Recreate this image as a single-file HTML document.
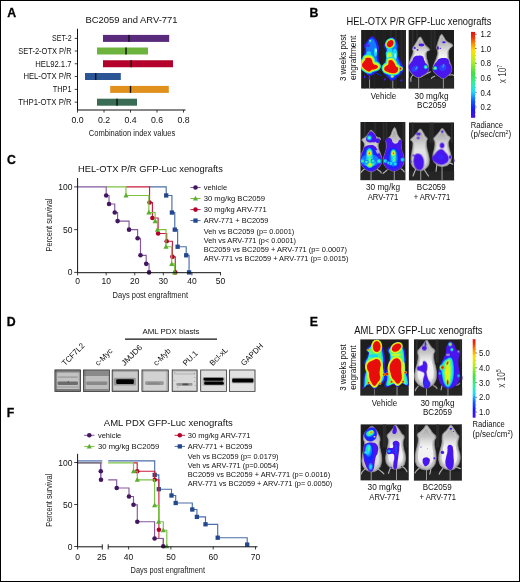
<!DOCTYPE html>
<html><head><meta charset="utf-8"><title>Figure</title>
<style>
html,body{margin:0;padding:0;background:#fff;}
body{width:520px;height:582px;overflow:hidden;font-family:"Liberation Sans",sans-serif;}
#fig{position:absolute;left:0;top:0;width:520px;height:582px;box-sizing:border-box;border:1px solid #000;background:#fff;}
svg{position:absolute;left:0;top:0;will-change:transform;opacity:0.999;}
svg text{font-family:"Liberation Sans",sans-serif;}
</style></head><body>
<div id="fig"></div>
<svg width="520" height="582" viewBox="0 0 520 582">
<defs><filter id="bblur" x="-5%" y="-5%" width="110%" height="110%"><feGaussianBlur stdDeviation="0.75"/></filter></defs>
<defs>
<filter id="blur3" x="-5%" y="-5%" width="110%" height="110%"><feGaussianBlur stdDeviation="3.2"/></filter>
<filter id="blur5" x="-5%" y="-5%" width="110%" height="110%"><feGaussianBlur stdDeviation="4.5"/></filter>
<filter id="blur6" x="-5%" y="-5%" width="110%" height="110%"><feGaussianBlur stdDeviation="7"/></filter>
<linearGradient id="mgA" x1="0" y1="0" x2="0" y2="1"><stop offset="0" stop-color="#a8a8a8"/><stop offset="0.22" stop-color="#c6c6c6"/><stop offset="0.36" stop-color="#e2e2e2"/><stop offset="0.5" stop-color="#f4f4f4"/><stop offset="0.85" stop-color="#f0f0f0"/><stop offset="1" stop-color="#cccccc"/></linearGradient>
<linearGradient id="mgB" x1="0" y1="0" x2="0" y2="1"><stop offset="0" stop-color="#a4a4a4"/><stop offset="0.22" stop-color="#bebebe"/><stop offset="0.36" stop-color="#d4d4d4"/><stop offset="0.5" stop-color="#e2e2e2"/><stop offset="0.85" stop-color="#dedede"/><stop offset="1" stop-color="#c4c4c4"/></linearGradient>
<linearGradient id="jet" x1="0" y1="0" x2="0" y2="1">
<stop offset="0" stop-color="#e01410"/><stop offset="0.06" stop-color="#f03008"/><stop offset="0.14" stop-color="#ff9000"/><stop offset="0.22" stop-color="#ffe000"/>
<stop offset="0.34" stop-color="#b4f020"/><stop offset="0.48" stop-color="#40e040"/><stop offset="0.6" stop-color="#30f0a0"/><stop offset="0.7" stop-color="#20d8ff"/>
<stop offset="0.8" stop-color="#1060ff"/><stop offset="0.9" stop-color="#1818ff"/><stop offset="1" stop-color="#5010e0"/>
</linearGradient>
</defs>
<clipPath id="mc1"><rect x="28" y="18" width="409" height="534"/></clipPath>
<g transform="translate(358 28) scale(0.10995)"><g clip-path="url(#mc1)">
<rect x="28" y="18" width="409" height="534" fill="#1e1e1e"/>
<g filter="url(#blur6)"><rect x="293.0" y="18" width="14" height="534" fill="#3a3a3a" opacity="0.5"/><rect x="338.0" y="18" width="14" height="534" fill="#3a3a3a" opacity="0.5"/><rect x="388.0" y="18" width="14" height="534" fill="#3a3a3a" opacity="0.5"/><rect x="418.0" y="18" width="14" height="534" fill="#3a3a3a" opacity="0.5"/><rect x="53.0" y="18" width="14" height="534" fill="#2c2c2c" opacity="0.5"/><rect x="143.0" y="18" width="14" height="534" fill="#2c2c2c" opacity="0.5"/><rect x="223.0" y="18" width="14" height="534" fill="#2c2c2c" opacity="0.5"/></g>
<g filter="url(#blur3)"><path d="M105.38948453608248 440V552" stroke="#a8a8a8" stroke-width="8" fill="none"/><path d="M316.7310309278351 470V552" stroke="#a8a8a8" stroke-width="8" fill="none"/></g>
<g filter="url(#blur5)"></g>
<g filter="url(#blur3)"><path d="M130.7 79.1C143.8 81.5 147.0 87.1 158.8 102.6C170.7 118.0 170.5 118.7 177.6 140.1C184.7 161.5 185.8 163.2 187.0 187.0C188.2 210.7 182.3 207.7 182.3 233.8C182.3 260.0 183.9 264.0 187.0 290.1C190.1 316.2 194.5 315.6 194.5 337.0C194.5 358.4 196.0 357.9 187.0 374.5C177.9 391.1 177.8 388.4 158.8 402.6C139.8 416.9 133.3 428.4 112.0 430.7C90.6 433.1 92.3 426.2 74.4 412.0C56.6 397.7 53.5 393.5 41.6 374.5C29.8 355.5 28.8 358.4 27.6 337.0C26.4 315.6 29.8 313.9 36.9 290.1C44.1 266.3 48.6 267.0 55.7 243.2C62.8 219.5 63.9 217.7 65.1 196.3C66.3 175.0 55.6 177.8 60.4 158.8C65.1 139.8 71.9 138.0 83.8 121.3C95.7 104.7 95.4 103.9 107.3 93.2C119.1 82.5 117.6 76.8 130.7 79.1Z" fill="#1428ff" stroke="#4a14ee" stroke-width="7" stroke-linejoin="round"/><path d="M307.4 88.5C293.1 90.9 290.0 94.2 274.5 107.3C259.1 120.3 254.7 124.6 246.4 140.1C238.1 155.5 239.3 151.6 241.7 168.2C244.1 184.8 251.0 184.3 255.8 205.7C260.5 227.1 261.7 228.8 260.5 252.6C259.3 276.4 258.2 275.7 251.1 299.5C244.0 323.2 238.3 325.0 232.3 346.4C226.4 367.7 224.1 364.9 227.7 383.9C231.2 402.9 232.2 402.4 246.4 421.4C260.7 440.4 267.3 444.6 283.9 458.9C300.5 473.1 295.4 480.0 312.0 477.6C328.7 475.3 329.4 466.1 349.5 449.5C369.7 432.9 376.3 431.0 391.7 412.0C407.2 393.0 408.1 393.5 410.5 374.5C412.9 355.5 409.4 358.4 401.1 337.0C392.8 315.6 388.4 313.9 377.7 290.1C367.0 266.3 363.7 267.0 358.9 243.2C354.2 219.5 357.7 217.7 358.9 196.3C360.1 175.0 366.0 177.8 363.6 158.8C361.2 139.8 357.9 136.8 349.5 121.3C341.2 105.9 341.5 106.2 330.8 97.9C320.1 89.6 321.6 86.1 307.4 88.5Z" fill="#1428ff" stroke="#4a14ee" stroke-width="7" stroke-linejoin="round"/><ellipse cx="60.38329896907217" cy="444.8111340206186" rx="7" ry="13" fill="#4a14ee"/><ellipse cx="102.57659793814435" cy="457.0003092783505" rx="7" ry="13" fill="#4a14ee"/><path d="M168.2 412.0C175.3 415.6 184.9 421.3 196.3 426.1C207.7 430.8 208.9 429.6 213.2 430.7" fill="none" stroke="#1428ff" stroke-width="9" stroke-linecap="round"/><ellipse cx="246.4088659793815" cy="466.37659793814436" rx="9" ry="12" fill="#4a14ee" transform="rotate(35 246.4088659793815 466.37659793814436)"/><ellipse cx="394.5542268041238" cy="475.75288659793824" rx="9" ry="12" fill="#4a14ee" transform="rotate(35 394.5542268041238 475.75288659793824)"/><path d="M128.0 96.5C138.5 98.6 141.0 103.7 150.5 117.6C160.0 131.5 159.8 132.1 165.5 151.4C171.2 170.6 172.1 172.2 173.0 193.6C174.0 214.9 169.3 212.2 169.3 235.7C169.3 259.3 170.6 262.9 173.0 286.4C175.5 309.9 179.0 309.3 179.0 328.6C179.0 347.8 180.2 347.4 173.0 362.3C165.8 377.3 165.7 374.8 150.5 387.6C135.3 400.5 130.1 410.8 113.0 413.0C95.9 415.1 97.3 408.9 83.0 396.1C68.8 383.3 66.3 379.4 56.8 362.3C47.3 345.2 46.5 347.8 45.5 328.6C44.6 309.3 47.3 307.8 53.0 286.4C58.7 265.0 62.3 265.6 68.0 244.2C73.7 222.8 74.6 221.2 75.5 202.0C76.5 182.7 68.0 185.3 71.8 168.2C75.6 151.1 81.0 149.4 90.5 134.5C100.0 119.5 99.8 118.8 109.3 109.2C118.8 99.5 117.6 94.4 128.0 96.5Z" fill="#1478ff"/><path d="M308.0 107.1C296.6 109.2 294.1 112.2 281.7 124.0C269.4 135.7 265.9 139.6 259.2 153.5C252.6 167.4 253.6 163.8 255.5 178.8C257.4 193.8 262.9 193.3 266.7 212.6C270.5 231.8 271.4 233.4 270.5 254.7C269.5 276.1 268.7 275.6 263.0 296.9C257.3 318.3 252.7 319.9 248.0 339.1C243.2 358.4 241.4 355.8 244.2 372.9C247.1 390.0 247.8 389.5 259.2 406.6C270.6 423.7 275.9 427.6 289.2 440.4C302.5 453.2 298.4 459.4 311.7 457.3C325.0 455.1 325.6 446.9 341.7 432.0C357.9 417.0 363.2 415.3 375.5 398.2C387.9 381.1 388.6 381.6 390.5 364.5C392.4 347.3 389.7 349.9 383.0 330.7C376.4 311.5 372.8 309.9 364.3 288.5C355.7 267.1 353.1 267.7 349.2 246.3C345.4 224.9 348.3 223.4 349.2 204.1C350.2 184.9 354.9 187.5 353.0 170.4C351.1 153.3 348.4 150.5 341.7 136.6C335.1 122.7 335.3 123.0 326.7 115.5C318.2 108.0 319.4 104.9 308.0 107.1Z" fill="#1478ff"/><ellipse cx="158.83432989690724" cy="219.78020618556704" rx="14" ry="40" fill="#16d8f4"/><ellipse cx="97.88845360824743" cy="233.84463917525778" rx="22" ry="22" fill="#16d8f4"/><ellipse cx="335.4836082474227" cy="238.53278350515467" rx="22" ry="52" fill="#16d8f4"/><ellipse cx="288.60216494845366" cy="201.0276288659794" rx="28" ry="12" fill="#16d8f4"/><ellipse cx="163.52247422680415" cy="205.71577319587632" rx="7" ry="18" fill="#c8f4ff"/><ellipse cx="338.2964948453609" cy="252.59721649484538" rx="8" ry="26" fill="#b0f0ff"/><ellipse cx="88.51216494845362" cy="158.83432989690724" rx="22" ry="14" fill="#4a30f0"/><ellipse cx="110.07762886597939" cy="116.64103092783506" rx="12.0" ry="12.0" fill="#16d8f4"/><ellipse cx="110.07762886597939" cy="116.64103092783506" rx="6.0" ry="6.0" fill="#c4f830"/><path d="M73.2 267.7C84.9 263.4 97.2 262.3 111.1 267.7C125.0 273.0 120.5 274.9 128.0 288.8C135.5 302.7 128.9 310.8 140.7 322.5C152.4 334.3 164.8 326.6 174.4 335.2C184.0 343.7 184.0 347.7 178.6 356.3C173.3 364.8 168.3 363.6 153.3 368.9C138.4 374.3 132.4 372.0 119.6 377.4C106.7 382.7 114.4 390.0 102.7 390.0C90.9 390.0 87.1 385.9 73.2 377.4C59.3 368.8 57.0 368.0 47.8 356.3C38.6 344.5 36.9 343.8 36.9 331.0C36.9 318.1 40.8 317.4 47.8 305.6C54.9 293.9 58.3 294.2 64.7 284.5C71.1 274.9 61.4 271.9 73.2 267.7Z" fill="#16d8f4" stroke="#16d8f4" stroke-width="54" stroke-linejoin="round"/><path d="M73.2 267.7C84.9 263.4 97.2 262.3 111.1 267.7C125.0 273.0 120.5 274.9 128.0 288.8C135.5 302.7 128.9 310.8 140.7 322.5C152.4 334.3 164.8 326.6 174.4 335.2C184.0 343.7 184.0 347.7 178.6 356.3C173.3 364.8 168.3 363.6 153.3 368.9C138.4 374.3 132.4 372.0 119.6 377.4C106.7 382.7 114.4 390.0 102.7 390.0C90.9 390.0 87.1 385.9 73.2 377.4C59.3 368.8 57.0 368.0 47.8 356.3C38.6 344.5 36.9 343.8 36.9 331.0C36.9 318.1 40.8 317.4 47.8 305.6C54.9 293.9 58.3 294.2 64.7 284.5C71.1 274.9 61.4 271.9 73.2 267.7Z" fill="#4cf884" stroke="#4cf884" stroke-width="40" stroke-linejoin="round"/><path d="M73.2 267.7C84.9 263.4 97.2 262.3 111.1 267.7C125.0 273.0 120.5 274.9 128.0 288.8C135.5 302.7 128.9 310.8 140.7 322.5C152.4 334.3 164.8 326.6 174.4 335.2C184.0 343.7 184.0 347.7 178.6 356.3C173.3 364.8 168.3 363.6 153.3 368.9C138.4 374.3 132.4 372.0 119.6 377.4C106.7 382.7 114.4 390.0 102.7 390.0C90.9 390.0 87.1 385.9 73.2 377.4C59.3 368.8 57.0 368.0 47.8 356.3C38.6 344.5 36.9 343.8 36.9 331.0C36.9 318.1 40.8 317.4 47.8 305.6C54.9 293.9 58.3 294.2 64.7 284.5C71.1 274.9 61.4 271.9 73.2 267.7Z" fill="#c4f830" stroke="#c4f830" stroke-width="28" stroke-linejoin="round"/><path d="M73.2 273.7C84.9 269.4 97.2 268.3 111.1 273.7C125.0 279.0 120.5 280.9 128.0 294.8C135.5 308.7 128.9 316.8 140.7 328.5C152.4 340.3 164.8 332.6 174.4 341.2C184.0 349.7 184.0 353.7 178.6 362.3C173.3 370.8 168.3 369.6 153.3 374.9C138.4 380.3 132.4 378.0 119.6 383.4C106.7 388.7 114.4 396.0 102.7 396.0C90.9 396.0 87.1 391.9 73.2 383.4C59.3 374.8 57.0 374.0 47.8 362.3C38.6 350.5 36.9 349.8 36.9 337.0C36.9 324.1 40.8 323.4 47.8 311.6C54.9 299.9 58.3 300.2 64.7 290.5C71.1 280.9 61.4 277.9 73.2 273.7Z" fill="#ffe400" stroke="#ffe400" stroke-width="16" stroke-linejoin="round"/><path d="M73.2 273.7C84.9 269.4 97.2 268.3 111.1 273.7C125.0 279.0 120.5 280.9 128.0 294.8C135.5 308.7 128.9 316.8 140.7 328.5C152.4 340.3 164.8 332.6 174.4 341.2C184.0 349.7 184.0 353.7 178.6 362.3C173.3 370.8 168.3 369.6 153.3 374.9C138.4 380.3 132.4 378.0 119.6 383.4C106.7 388.7 114.4 396.0 102.7 396.0C90.9 396.0 87.1 391.9 73.2 383.4C59.3 374.8 57.0 374.0 47.8 362.3C38.6 350.5 36.9 349.8 36.9 337.0C36.9 324.1 40.8 323.4 47.8 311.6C54.9 299.9 58.3 300.2 64.7 290.5C71.1 280.9 61.4 277.9 73.2 273.7Z" fill="#e80c08"/><ellipse cx="130.7054639175258" cy="385.7405154639176" rx="14" ry="7" fill="#ffe400"/><path d="M260.5 219.8C272.8 204.3 297.1 209.1 312.0 219.8C327.0 230.5 313.6 241.8 319.5 262.0C325.5 282.2 325.5 280.5 335.5 299.5C345.5 318.5 355.4 318.0 358.9 337.0C362.5 356.0 370.9 365.0 349.5 374.5C328.2 384.0 298.3 386.4 274.5 374.5C250.8 362.6 258.6 351.4 255.8 327.6C252.9 303.9 262.1 308.0 263.3 280.7C264.5 253.4 248.1 235.2 260.5 219.8Z" fill="#4cf884" stroke="#16d8f4" stroke-width="10" stroke-linejoin="round"/><ellipse cx="283.9140206185567" cy="252.59721649484538" rx="22" ry="28" fill="#c4f830"/><path d="M268.0 131.9C273.4 121.2 274.2 120.3 284.9 115.0C295.6 109.7 300.6 107.6 310.2 110.8C319.8 114.0 320.7 117.0 322.9 127.7C325.0 138.3 324.0 142.3 318.7 153.0C313.3 163.7 311.4 164.5 301.8 169.9C292.2 175.2 290.3 177.3 280.7 174.1C271.1 170.9 267.0 167.9 263.8 157.2C260.6 146.5 262.7 142.6 268.0 131.9Z" fill="#16d8f4" stroke="#16d8f4" stroke-width="36" stroke-linejoin="round"/><path d="M268.0 131.9C273.4 121.2 274.2 120.3 284.9 115.0C295.6 109.7 300.6 107.6 310.2 110.8C319.8 114.0 320.7 117.0 322.9 127.7C325.0 138.3 324.0 142.3 318.7 153.0C313.3 163.7 311.4 164.5 301.8 169.9C292.2 175.2 290.3 177.3 280.7 174.1C271.1 170.9 267.0 167.9 263.8 157.2C260.6 146.5 262.7 142.6 268.0 131.9Z" fill="#4cf884" stroke="#4cf884" stroke-width="26" stroke-linejoin="round"/><path d="M268.0 131.9C273.4 121.2 274.2 120.3 284.9 115.0C295.6 109.7 300.6 107.6 310.2 110.8C319.8 114.0 320.7 117.0 322.9 127.7C325.0 138.3 324.0 142.3 318.7 153.0C313.3 163.7 311.4 164.5 301.8 169.9C292.2 175.2 290.3 177.3 280.7 174.1C271.1 170.9 267.0 167.9 263.8 157.2C260.6 146.5 262.7 142.6 268.0 131.9Z" fill="#ffe400" stroke="#ffe400" stroke-width="13" stroke-linejoin="round"/><path d="M268.0 131.9C273.4 121.2 274.2 120.3 284.9 115.0C295.6 109.7 300.6 107.6 310.2 110.8C319.8 114.0 320.7 117.0 322.9 127.7C325.0 138.3 324.0 142.3 318.7 153.0C313.3 163.7 311.4 164.5 301.8 169.9C292.2 175.2 290.3 177.3 280.7 174.1C271.1 170.9 267.0 167.9 263.8 157.2C260.6 146.5 262.7 142.6 268.0 131.9Z" fill="#e80c08"/><path d="M281.3 292.6C288.8 287.3 294.9 284.1 306.7 288.4C318.4 292.7 318.1 295.6 327.7 309.5C337.4 323.4 336.1 331.5 344.6 343.2C353.2 355.0 357.2 345.2 361.5 355.9C365.8 366.6 365.8 373.7 361.5 385.4C357.2 397.2 357.5 397.0 344.6 402.3C331.8 407.6 328.0 407.6 310.9 406.5C293.8 405.5 293.1 403.4 277.1 398.1C261.1 392.7 257.2 394.0 247.6 385.4C238.0 376.9 238.1 375.0 239.1 364.3C240.2 353.6 243.2 351.8 251.8 343.2C260.4 334.7 266.5 339.1 272.9 330.6C279.3 322.0 275.0 319.1 277.1 309.5C279.3 299.9 273.9 297.9 281.3 292.6Z" fill="#16d8f4" stroke="#16d8f4" stroke-width="50" stroke-linejoin="round"/><path d="M281.3 292.6C288.8 287.3 294.9 284.1 306.7 288.4C318.4 292.7 318.1 295.6 327.7 309.5C337.4 323.4 336.1 331.5 344.6 343.2C353.2 355.0 357.2 345.2 361.5 355.9C365.8 366.6 365.8 373.7 361.5 385.4C357.2 397.2 357.5 397.0 344.6 402.3C331.8 407.6 328.0 407.6 310.9 406.5C293.8 405.5 293.1 403.4 277.1 398.1C261.1 392.7 257.2 394.0 247.6 385.4C238.0 376.9 238.1 375.0 239.1 364.3C240.2 353.6 243.2 351.8 251.8 343.2C260.4 334.7 266.5 339.1 272.9 330.6C279.3 322.0 275.0 319.1 277.1 309.5C279.3 299.9 273.9 297.9 281.3 292.6Z" fill="#4cf884" stroke="#4cf884" stroke-width="38" stroke-linejoin="round"/><path d="M281.3 292.6C288.8 287.3 294.9 284.1 306.7 288.4C318.4 292.7 318.1 295.6 327.7 309.5C337.4 323.4 336.1 331.5 344.6 343.2C353.2 355.0 357.2 345.2 361.5 355.9C365.8 366.6 365.8 373.7 361.5 385.4C357.2 397.2 357.5 397.0 344.6 402.3C331.8 407.6 328.0 407.6 310.9 406.5C293.8 405.5 293.1 403.4 277.1 398.1C261.1 392.7 257.2 394.0 247.6 385.4C238.0 376.9 238.1 375.0 239.1 364.3C240.2 353.6 243.2 351.8 251.8 343.2C260.4 334.7 266.5 339.1 272.9 330.6C279.3 322.0 275.0 319.1 277.1 309.5C279.3 299.9 273.9 297.9 281.3 292.6Z" fill="#c4f830" stroke="#c4f830" stroke-width="26" stroke-linejoin="round"/><path d="M281.3 296.6C288.8 291.3 294.9 288.1 306.7 292.4C318.4 296.7 318.1 299.6 327.7 313.5C337.4 327.4 336.1 335.5 344.6 347.2C353.2 359.0 357.2 349.2 361.5 359.9C365.8 370.6 365.8 377.7 361.5 389.4C357.2 401.2 357.5 401.0 344.6 406.3C331.8 411.6 328.0 411.6 310.9 410.5C293.8 409.5 293.1 407.4 277.1 402.1C261.1 396.7 257.2 398.0 247.6 389.4C238.0 380.9 238.1 379.0 239.1 368.3C240.2 357.6 243.2 355.8 251.8 347.2C260.4 338.7 266.5 343.1 272.9 334.6C279.3 326.0 275.0 323.1 277.1 313.5C279.3 303.9 273.9 301.9 281.3 296.6Z" fill="#ffe400" stroke="#ffe400" stroke-width="15" stroke-linejoin="round"/><path d="M281.3 296.6C288.8 291.3 294.9 288.1 306.7 292.4C318.4 296.7 318.1 299.6 327.7 313.5C337.4 327.4 336.1 335.5 344.6 347.2C353.2 359.0 357.2 349.2 361.5 359.9C365.8 370.6 365.8 377.7 361.5 389.4C357.2 401.2 357.5 401.0 344.6 406.3C331.8 411.6 328.0 411.6 310.9 410.5C293.8 409.5 293.1 407.4 277.1 402.1C261.1 396.7 257.2 398.0 247.6 389.4C238.0 380.9 238.1 379.0 239.1 368.3C240.2 357.6 243.2 355.8 251.8 347.2C260.4 338.7 266.5 343.1 272.9 334.6C279.3 326.0 275.0 323.1 277.1 313.5C279.3 303.9 273.9 301.9 281.3 296.6Z" fill="#e80c08"/><ellipse cx="387.0531958762887" cy="369.8008247422681" rx="22.0" ry="22.0" fill="#4cf884"/><ellipse cx="387.0531958762887" cy="369.8008247422681" rx="16.0" ry="16.0" fill="#ffe400"/><ellipse cx="387.0531958762887" cy="369.8008247422681" rx="10.0" ry="10.0" fill="#e80c08"/><ellipse cx="312.0428865979382" cy="440.12298969072174" rx="14" ry="10" fill="#c4f830"/></g>

</g></g>
<clipPath id="mc2"><rect x="22" y="18" width="415" height="534"/></clipPath>
<g transform="translate(406 28) scale(0.10995)"><g clip-path="url(#mc2)">
<rect x="22" y="18" width="415" height="534" fill="#1e1e1e"/>
<g filter="url(#blur6)"><rect x="53.0" y="18" width="14" height="182" fill="#3c3c3c" opacity="0.6"/><rect x="93.0" y="18" width="14" height="182" fill="#3c3c3c" opacity="0.6"/><rect x="223.0" y="18" width="14" height="182" fill="#3c3c3c" opacity="0.6"/><rect x="253.0" y="18" width="14" height="182" fill="#3c3c3c" opacity="0.6"/><rect x="22" y="455" width="415" height="97" fill="#383838" opacity="0.35"/></g>
<g filter="url(#blur3)"><path d="M115 440V552" stroke="#a8a8a8" stroke-width="8" fill="none"/><path d="M340 455V552" stroke="#a8a8a8" stroke-width="8" fill="none"/><path d="M62.0 428.0C57.7 434.8 49.3 440.6 45.0 455.0C40.7 469.4 45.0 477.4 45.0 485.0" fill="none" stroke="#b4b4b4" stroke-width="10" stroke-linecap="round"/><path d="M180.0 418.0C186.3 415.5 194.4 413.1 205.0 408.0C215.6 402.9 217.7 400.5 222.0 398.0" fill="none" stroke="#b4b4b4" stroke-width="10" stroke-linecap="round"/><path d="M262.0 438.0C256.4 440.5 247.6 442.9 240.0 448.0C232.4 453.1 234.0 455.5 232.0 458.0" fill="none" stroke="#b4b4b4" stroke-width="10" stroke-linecap="round"/><path d="M395.0 428.0C401.3 427.2 409.4 424.0 420.0 425.0C430.6 426.0 432.7 430.2 437.0 432.0" fill="none" stroke="#b4b4b4" stroke-width="10" stroke-linecap="round"/></g>
<g filter="url(#blur5)"><path d="M128.0 82.0C140.7 79.5 138.9 92.8 150.0 110.0C161.1 127.2 155.5 128.5 172.0 150.0C188.5 171.5 210.4 178.5 215.0 195.0C219.6 211.5 197.6 198.5 190.0 215.0C182.4 231.5 182.5 233.4 185.0 260.0C187.5 286.6 194.9 292.1 200.0 320.0C205.1 347.9 207.5 347.2 205.0 370.0C202.5 392.8 203.9 392.3 190.0 410.0C176.1 427.7 170.3 429.9 150.0 440.0C129.7 450.1 130.3 452.5 110.0 450.0C89.7 447.5 89.0 445.2 70.0 430.0C51.0 414.8 47.2 410.3 35.0 390.0C22.8 369.7 22.0 372.8 22.0 350.0C22.0 327.2 26.6 325.3 35.0 300.0C43.4 274.7 47.4 271.5 55.0 250.0C62.6 228.5 63.7 230.2 65.0 215.0C66.3 199.8 57.5 203.9 60.0 190.0C62.5 176.1 64.9 177.7 75.0 160.0C85.1 142.3 86.6 139.8 100.0 120.0C113.4 100.2 115.3 84.5 128.0 82.0Z" fill="#a2a2a2" stroke="#a2a2a2" stroke-width="6" stroke-linejoin="round"/><path d="M127.3 91.4C138.7 89.0 137.0 101.7 147.1 118.0C157.1 134.4 152.0 135.6 166.9 156.0C181.7 176.5 201.5 183.1 205.6 198.8C209.7 214.4 189.9 202.1 183.1 217.8C176.2 233.4 176.3 235.2 178.6 260.5C180.8 285.8 187.5 291.0 192.1 317.5C196.6 344.0 198.8 343.4 196.6 365.0C194.3 386.7 195.6 386.2 183.1 403.0C170.5 419.9 165.3 421.9 147.1 431.5C128.8 441.1 129.3 443.4 111.1 441.0C92.8 438.6 92.2 436.5 75.1 422.0C58.0 407.6 54.5 403.3 43.6 384.0C32.6 364.8 31.9 367.7 31.9 346.0C31.9 324.4 36.0 322.6 43.6 298.5C51.1 274.5 54.7 271.5 61.6 251.0C68.4 230.6 69.4 232.2 70.6 217.8C71.7 203.3 63.8 207.3 66.1 194.0C68.3 180.8 70.4 182.4 79.6 165.5C88.7 148.7 90.0 146.3 102.1 127.5C114.1 108.7 115.9 93.8 127.3 91.4Z" fill="#c4c4c4"/><path d="M126.1 108.4C135.4 106.2 134.1 117.6 142.4 132.4C150.6 147.3 146.5 148.3 158.6 166.8C170.8 185.4 187.1 191.4 190.5 205.5C193.8 219.7 177.6 208.6 172.0 222.7C166.3 236.9 166.4 238.6 168.3 261.4C170.1 284.3 175.6 289.1 179.4 313.0C183.1 337.0 184.9 336.4 183.1 356.0C181.2 375.7 182.3 375.2 172.0 390.4C161.6 405.7 157.4 407.5 142.4 416.2C127.4 425.0 127.8 427.0 112.8 424.8C97.8 422.7 97.2 420.7 83.2 407.6C69.1 394.6 66.3 390.7 57.3 373.2C48.3 355.8 47.6 358.5 47.6 338.8C47.6 319.2 51.1 317.6 57.3 295.8C63.4 274.1 66.4 271.4 72.1 252.8C77.7 234.3 78.5 235.8 79.5 222.7C80.4 209.7 73.9 213.2 75.8 201.2C77.6 189.3 79.4 190.7 86.9 175.4C94.4 160.2 95.4 158.0 105.4 141.0C115.3 124.1 116.7 110.5 126.1 108.4Z" fill="url(#mgA)"/><path d="M322.0 58.0C333.4 54.2 332.8 69.3 345.0 85.0C357.2 100.7 349.7 102.3 370.0 120.0C390.3 137.7 418.7 137.3 425.0 155.0C431.3 172.7 405.1 168.5 395.0 190.0C384.9 211.5 385.0 212.1 385.0 240.0C385.0 267.9 388.2 272.1 395.0 300.0C401.8 327.9 408.2 324.7 412.0 350.0C415.8 375.3 418.1 378.5 410.0 400.0C401.9 421.5 397.7 420.3 380.0 435.0C362.3 449.7 360.3 456.7 340.0 458.0C319.7 459.3 319.8 452.2 300.0 440.0C280.2 427.8 275.9 427.7 262.0 410.0C248.1 392.3 246.0 392.8 245.0 370.0C244.0 347.2 249.6 345.3 258.0 320.0C266.4 294.7 270.4 295.3 278.0 270.0C285.6 244.7 288.0 242.8 288.0 220.0C288.0 197.2 278.8 197.7 278.0 180.0C277.2 162.3 279.4 170.3 285.0 150.0C290.6 129.7 290.6 123.3 300.0 100.0C309.4 76.7 310.6 61.8 322.0 58.0Z" fill="#a2a2a2" stroke="#a2a2a2" stroke-width="6" stroke-linejoin="round"/><path d="M323.2 68.2C333.4 64.6 332.9 79.0 343.9 93.9C354.8 108.8 348.1 110.3 366.4 127.1C384.6 144.0 410.2 143.5 415.9 160.4C421.6 177.2 398.0 173.2 388.9 193.6C379.7 214.1 379.9 214.7 379.9 241.1C379.9 267.6 382.7 271.7 388.9 298.1C395.0 324.6 400.7 321.6 404.2 345.6C407.6 369.7 409.7 372.7 402.4 393.1C395.1 413.6 391.3 412.4 375.4 426.4C359.4 440.3 357.6 447.0 339.4 448.2C321.1 449.4 321.1 442.7 303.4 431.1C285.6 419.6 281.7 419.5 269.2 402.6C256.6 385.8 254.8 386.3 253.9 364.6C253.0 343.0 258.0 341.2 265.6 317.1C273.1 293.1 276.7 293.7 283.6 269.6C290.4 245.6 292.6 243.8 292.6 222.1C292.6 200.5 284.2 201.0 283.6 184.1C282.9 167.3 284.8 174.9 289.9 155.6C294.9 136.4 294.9 130.3 303.4 108.1C311.8 86.0 312.9 71.8 323.2 68.2Z" fill="#c4c4c4"/><path d="M325.0 86.6C333.5 83.4 333.1 96.3 342.0 109.9C351.0 123.4 345.6 124.7 360.5 140.0C375.5 155.2 396.6 154.8 401.2 170.1C405.9 185.3 386.5 181.6 379.0 200.2C371.6 218.7 371.6 219.2 371.6 243.2C371.6 267.1 374.0 270.8 379.0 294.8C384.1 318.7 388.8 316.0 391.6 337.8C394.4 359.5 396.1 362.2 390.1 380.8C384.2 399.3 381.1 398.2 367.9 410.9C354.8 423.5 353.3 429.5 338.3 430.6C323.4 431.7 323.4 425.6 308.7 415.2C294.1 404.7 290.9 404.6 280.6 389.4C270.3 374.1 268.8 374.6 268.0 355.0C267.3 335.3 271.5 333.7 277.7 312.0C283.9 290.2 286.8 290.7 292.5 269.0C298.1 247.2 299.9 245.6 299.9 226.0C299.9 206.3 293.0 206.8 292.5 191.6C291.9 176.3 293.5 183.2 297.6 165.8C301.8 148.3 301.8 142.8 308.7 122.8C315.7 102.7 316.6 89.9 325.0 86.6Z" fill="url(#mgA)"/></g>
<g filter="url(#blur3)"><path d="M75.0 262.0C88.9 249.8 91.0 253.0 110.0 252.0C129.0 251.0 136.1 248.4 150.0 258.0C163.9 267.6 157.4 274.3 165.0 290.0C172.6 305.7 171.1 306.1 180.0 320.0C188.9 333.9 193.7 331.1 200.0 345.0C206.3 358.9 207.5 359.8 205.0 375.0C202.5 390.2 203.9 390.6 190.0 405.0C176.1 419.4 169.8 421.1 150.0 432.0C130.2 442.9 131.8 449.0 112.0 448.0C92.2 447.0 90.7 442.2 72.0 428.0C53.3 413.8 50.7 410.5 38.0 392.0C25.3 373.5 23.5 370.7 22.0 355.0C20.5 339.3 23.6 343.9 32.0 330.0C40.4 316.1 44.1 317.2 55.0 300.0C65.9 282.8 61.1 274.2 75.0 262.0Z" fill="#4a14ee"/><path d="M300.0 282.0C315.2 273.6 319.7 272.0 340.0 272.0C360.3 272.0 366.1 269.8 380.0 282.0C393.9 294.2 386.9 301.5 395.0 320.0C403.1 338.5 408.2 335.2 412.0 355.0C415.8 374.8 418.1 378.5 410.0 398.0C401.9 417.5 397.7 417.3 380.0 432.0C362.3 446.7 360.3 454.5 340.0 456.0C319.7 457.5 319.8 450.2 300.0 438.0C280.2 425.8 275.9 424.7 262.0 408.0C248.1 391.3 246.0 390.5 245.0 372.0C244.0 353.5 249.1 352.0 258.0 335.0C266.9 318.0 269.4 318.4 280.0 305.0C290.6 291.6 284.8 290.4 300.0 282.0Z" fill="#4a14ee"/><ellipse cx="80" cy="372" rx="34" ry="26" fill="#2c44ff" transform="rotate(-30 80 372)" opacity="0.85"/><ellipse cx="335" cy="360" rx="34" ry="30" fill="#2c44ff" transform="rotate(-30 335 360)" opacity="0.85"/><ellipse cx="95" cy="365" rx="8" ry="18" fill="#3a90ff" transform="rotate(30 95 365)"/><ellipse cx="340" cy="345" rx="8" ry="20" fill="#3a90ff" transform="rotate(20 340 345)"/><ellipse cx="180" cy="355" rx="20.0" ry="20.0" fill="#1478ff"/><ellipse cx="180" cy="355" rx="15.0" ry="15.0" fill="#16d8f4"/><ellipse cx="180" cy="355" rx="10.0" ry="10.0" fill="#4cf884"/><ellipse cx="180" cy="355" rx="5.0" ry="5.0" fill="#ffe400"/><ellipse cx="265" cy="365" rx="20.0" ry="20.0" fill="#1478ff"/><ellipse cx="265" cy="365" rx="15.0" ry="15.0" fill="#16d8f4"/><ellipse cx="265" cy="365" rx="10.0" ry="10.0" fill="#4cf884"/><ellipse cx="265" cy="365" rx="5.0" ry="5.0" fill="#ffe400"/><ellipse cx="140" cy="155" rx="26" ry="13" fill="#4a14ee"/><ellipse cx="80" cy="182" rx="10" ry="9" fill="#4a14ee"/><ellipse cx="105" cy="198" rx="9" ry="8" fill="#4a14ee"/><ellipse cx="345" cy="130" rx="16" ry="9" fill="#4a14ee"/><ellipse cx="290" cy="182" rx="9" ry="18" fill="#4a14ee"/><ellipse cx="312" cy="185" rx="7" ry="6" fill="#4a14ee"/></g>

</g></g>
<clipPath id="mc3"><rect x="20" y="35" width="400" height="515"/></clipPath>
<g transform="translate(358 118) scale(0.11334)"><g clip-path="url(#mc3)">
<rect x="20" y="35" width="400" height="515" fill="#1e1e1e"/>
<g filter="url(#blur6)"><rect x="53.0" y="35" width="14" height="165" fill="#3c3c3c" opacity="0.6"/><rect x="143.0" y="35" width="14" height="165" fill="#3c3c3c" opacity="0.6"/><rect x="218.0" y="35" width="14" height="165" fill="#3c3c3c" opacity="0.6"/><rect x="243.0" y="35" width="14" height="165" fill="#3c3c3c" opacity="0.6"/><rect x="393.0" y="35" width="14" height="165" fill="#3c3c3c" opacity="0.6"/><rect x="20" y="470" width="400" height="80" fill="#363636" opacity="0.35"/></g>
<g filter="url(#blur3)"><path d="M115 465V550" stroke="#a8a8a8" stroke-width="8" fill="none"/><path d="M320 462V550" stroke="#a8a8a8" stroke-width="8" fill="none"/><path d="M55.0 452.0C49.9 456.6 43.9 461.6 35.0 470.0C26.1 478.4 23.8 481.2 20.0 485.0" fill="none" stroke="#b4b4b4" stroke-width="10" stroke-linecap="round"/><path d="M172.0 455.0C177.8 458.8 186.6 462.4 195.0 470.0C203.4 477.6 202.5 481.2 205.0 485.0" fill="none" stroke="#b4b4b4" stroke-width="10" stroke-linecap="round"/><path d="M258.0 458.0C252.9 462.3 247.1 467.4 238.0 475.0C228.9 482.6 226.1 484.7 222.0 488.0" fill="none" stroke="#b4b4b4" stroke-width="10" stroke-linecap="round"/><path d="M382.0 450.0C386.1 453.0 391.4 455.7 398.0 462.0C404.6 468.3 405.5 471.7 408.0 475.0" fill="none" stroke="#b4b4b4" stroke-width="10" stroke-linecap="round"/></g>
<g filter="url(#blur5)"><path d="M115.0 108.0C126.4 108.0 127.3 115.6 140.0 130.0C152.7 144.4 150.3 152.3 165.0 165.0C179.7 177.7 192.9 167.3 198.0 180.0C203.1 192.7 189.6 194.7 185.0 215.0C180.4 235.3 176.2 233.4 180.0 260.0C183.8 286.6 192.4 292.1 200.0 320.0C207.6 347.9 211.3 344.7 210.0 370.0C208.7 395.3 210.2 396.7 195.0 420.0C179.8 443.3 171.5 448.8 150.0 462.0C128.5 475.2 130.3 473.8 110.0 472.0C89.7 470.2 89.0 468.2 70.0 455.0C51.0 441.8 47.7 440.3 35.0 420.0C22.3 399.7 21.3 400.3 20.0 375.0C18.7 349.7 22.4 346.6 30.0 320.0C37.6 293.4 43.7 294.1 50.0 270.0C56.3 245.9 58.8 245.3 55.0 225.0C51.2 204.7 31.2 205.2 35.0 190.0C38.8 174.8 54.8 180.2 70.0 165.0C85.2 149.8 83.6 144.4 95.0 130.0C106.4 115.6 103.6 108.0 115.0 108.0Z" fill="#a2a2a2" stroke="#a2a2a2" stroke-width="6" stroke-linejoin="round"/><path d="M115.0 116.7C125.3 116.7 126.1 123.9 137.5 137.6C148.9 151.3 146.8 158.8 160.0 170.9C173.3 182.9 185.2 173.1 189.7 185.1C194.3 197.2 182.1 199.1 178.0 218.4C173.9 237.6 170.1 235.9 173.5 261.1C177.0 286.4 184.7 291.7 191.5 318.1C198.4 344.6 201.7 341.6 200.5 365.6C199.4 389.7 200.7 391.0 187.0 413.1C173.4 435.3 165.9 440.5 146.5 453.0C127.2 465.5 128.8 464.2 110.5 462.5C92.3 460.8 91.6 458.9 74.5 446.4C57.4 433.9 54.4 432.4 43.0 413.1C31.6 393.9 30.7 394.4 29.5 370.4C28.4 346.3 31.7 343.4 38.5 318.1C45.4 292.9 50.8 293.5 56.5 270.6C62.2 247.8 64.5 247.1 61.0 227.9C57.6 208.6 39.6 209.1 43.0 194.6C46.5 180.2 60.9 185.3 74.5 170.9C88.2 156.4 86.8 151.3 97.0 137.6C107.3 123.9 104.8 116.7 115.0 116.7Z" fill="#c4c4c4"/><path d="M115.1 132.4C123.5 132.4 124.2 138.9 133.6 151.4C143.0 163.8 141.2 170.6 152.1 181.5C163.0 192.4 172.8 183.5 176.5 194.4C180.3 205.3 170.3 207.0 166.9 224.5C163.5 241.9 160.4 240.3 163.2 263.2C166.0 286.0 172.4 290.8 178.0 314.8C183.6 338.7 186.3 336.0 185.4 357.8C184.5 379.6 185.6 380.7 174.3 400.8C163.1 420.8 156.9 425.6 141.0 436.9C125.1 448.2 126.4 447.0 111.4 445.5C96.4 444.0 95.9 442.2 81.8 430.9C67.7 419.5 65.3 418.2 55.9 400.8C46.5 383.3 45.7 383.9 44.8 362.1C43.9 340.3 46.6 337.6 52.2 314.8C57.8 291.9 62.3 292.5 67.0 271.8C71.7 251.1 73.5 250.5 70.7 233.1C67.9 215.6 53.1 216.0 55.9 203.0C58.7 189.9 70.6 194.5 81.8 181.5C93.1 168.4 91.9 163.8 100.3 151.4C108.7 138.9 106.7 132.4 115.1 132.4Z" fill="url(#mgB)"/><path d="M322.0 85.0C331.1 83.5 330.9 95.5 338.0 112.0C345.1 128.5 339.9 130.2 350.0 150.0C360.1 169.8 370.4 169.7 378.0 190.0C385.6 210.3 378.2 207.2 380.0 230.0C381.8 252.8 379.9 254.7 385.0 280.0C390.1 305.3 394.9 304.7 400.0 330.0C405.1 355.3 407.5 355.9 405.0 380.0C402.5 404.1 403.9 405.2 390.0 425.0C376.1 444.8 369.0 447.1 350.0 458.0C331.0 468.9 334.0 468.8 315.0 468.0C296.0 467.2 294.0 465.9 275.0 455.0C256.0 444.1 252.7 444.0 240.0 425.0C227.3 406.0 227.0 404.1 225.0 380.0C223.0 355.9 226.2 355.3 232.0 330.0C237.8 304.7 243.4 305.3 248.0 280.0C252.6 254.7 249.5 252.3 250.0 230.0C250.5 207.7 241.1 210.2 250.0 192.0C258.9 173.8 271.8 176.7 285.0 158.0C298.2 139.3 292.6 136.5 302.0 118.0C311.4 99.5 312.9 86.5 322.0 85.0Z" fill="#a2a2a2" stroke="#a2a2a2" stroke-width="6" stroke-linejoin="round"/><path d="M321.4 94.9C329.6 93.5 329.4 104.9 335.8 120.6C342.2 136.2 337.5 137.9 346.6 156.7C355.7 175.5 365.0 175.4 371.8 194.7C378.6 213.9 372.0 211.0 373.6 232.7C375.2 254.3 373.5 256.1 378.1 280.2C382.7 304.3 387.0 303.6 391.6 327.7C396.2 351.8 398.4 352.3 396.1 375.2C393.8 398.1 395.1 399.2 382.6 417.9C370.1 436.7 363.7 438.9 346.6 449.3C329.5 459.6 332.2 459.5 315.1 458.8C298.0 458.1 296.2 456.8 279.1 446.4C262.0 436.1 259.0 436.0 247.6 417.9C236.2 399.9 235.9 398.1 234.1 375.2C232.3 352.3 235.2 351.8 240.4 327.7C245.6 303.6 250.7 304.3 254.8 280.2C258.9 256.1 256.1 253.9 256.6 232.7C257.1 211.5 248.6 213.9 256.6 196.6C264.6 179.3 276.2 182.1 288.1 164.3C300.0 146.5 295.0 143.9 303.4 126.3C311.8 108.7 313.2 96.4 321.4 94.9Z" fill="#c4c4c4"/><path d="M320.4 112.8C327.2 111.5 327.0 121.9 332.3 136.1C337.5 150.2 333.7 151.7 341.2 168.7C348.7 185.7 356.3 185.7 361.9 203.1C367.5 220.6 362.0 217.9 363.4 237.5C364.7 257.1 363.3 258.7 367.1 280.5C370.8 302.3 374.4 301.7 378.2 323.5C381.9 345.3 383.7 345.8 381.9 366.5C380.0 387.2 381.1 388.2 370.8 405.2C360.4 422.2 355.2 424.2 341.2 433.6C327.1 443.0 329.3 442.9 315.3 442.2C301.2 441.6 299.7 440.4 285.7 431.0C271.6 421.7 269.1 421.6 259.8 405.2C250.4 388.9 250.2 387.2 248.7 366.5C247.2 345.8 249.5 345.3 253.8 323.5C258.2 301.7 262.3 302.3 265.7 280.5C269.1 258.7 266.8 256.7 267.2 237.5C267.5 218.4 260.6 220.5 267.2 204.9C273.7 189.2 283.3 191.7 293.1 175.6C302.8 159.5 298.7 157.1 305.6 141.2C312.6 125.3 313.7 114.1 320.4 112.8Z" fill="url(#mgB)"/></g>
<g filter="url(#blur3)"><path d="M110.0 118.0C121.4 118.0 127.3 121.8 140.0 135.0C152.7 148.2 154.9 152.3 160.0 170.0C165.1 187.7 167.6 193.6 160.0 205.0C152.4 216.4 147.7 213.2 130.0 215.0C112.3 216.8 104.7 218.3 90.0 212.0C75.3 205.7 74.5 203.2 72.0 190.0C69.5 176.8 74.2 173.9 80.0 160.0C85.8 146.1 87.4 145.6 95.0 135.0C102.6 124.4 98.6 118.0 110.0 118.0Z" fill="#4a14ee"/><path d="M60.0 255.0C76.5 241.8 87.2 239.3 110.0 238.0C132.8 236.7 133.5 236.8 150.0 250.0C166.5 263.2 162.3 269.7 175.0 290.0C187.7 310.3 191.1 309.2 200.0 330.0C208.9 350.8 211.3 349.2 210.0 372.0C208.7 394.8 210.2 397.2 195.0 420.0C179.8 442.8 171.5 448.8 150.0 462.0C128.5 475.2 130.3 473.8 110.0 472.0C89.7 470.2 89.0 468.2 70.0 455.0C51.0 441.8 47.7 440.3 35.0 420.0C22.3 399.7 21.3 399.1 20.0 375.0C18.7 350.9 23.7 346.5 30.0 325.0C36.3 303.5 37.4 307.7 45.0 290.0C52.6 272.3 43.5 268.2 60.0 255.0Z" fill="#4a14ee"/><ellipse cx="175" cy="200" rx="20" ry="22" fill="#4a14ee"/><ellipse cx="165" cy="300" rx="22" ry="18" fill="#c8c0e8" opacity="0.8"/><path d="M250.0 185.0C259.6 171.1 274.8 171.6 290.0 180.0C305.2 188.4 296.1 207.4 310.0 218.0C323.9 228.6 331.1 227.8 345.0 222.0C358.9 216.2 354.9 200.6 365.0 195.0C375.1 189.4 380.7 188.6 385.0 200.0C389.3 211.4 381.2 218.5 382.0 240.0C382.8 261.5 382.9 260.9 388.0 285.0C393.1 309.1 397.7 310.9 402.0 335.0C406.3 359.1 408.0 357.2 405.0 380.0C402.0 402.8 403.9 405.2 390.0 425.0C376.1 444.8 369.0 447.1 350.0 458.0C331.0 468.9 334.0 468.8 315.0 468.0C296.0 467.2 294.0 465.9 275.0 455.0C256.0 444.1 252.7 444.0 240.0 425.0C227.3 406.0 227.0 404.1 225.0 380.0C223.0 355.9 226.2 355.3 232.0 330.0C237.8 304.7 242.9 304.1 248.0 280.0C253.1 255.9 251.5 259.1 252.0 235.0C252.5 210.9 240.4 198.9 250.0 185.0Z" fill="#4a14ee"/><ellipse cx="105" cy="360" rx="72" ry="100" fill="#1428ff"/><ellipse cx="105" cy="375" rx="82" ry="55" fill="#1478ff"/><ellipse cx="100" cy="330" rx="34" ry="70" fill="#1478ff"/><ellipse cx="100" cy="175" rx="24.0" ry="24.0" fill="#1478ff"/><ellipse cx="100" cy="175" rx="17.0" ry="17.0" fill="#16d8f4"/><ellipse cx="100" cy="175" rx="10.0" ry="10.0" fill="#4cf884"/><ellipse cx="100" cy="175" rx="5.0" ry="5.0" fill="#c4f830"/><ellipse cx="102" cy="350" rx="28" ry="80" fill="#16d8f4"/><ellipse cx="105" cy="392" rx="50" ry="36" fill="#16d8f4"/><ellipse cx="100" cy="312" rx="22.95" ry="33.75" fill="#4cf884"/><ellipse cx="100" cy="312" rx="16.15" ry="23.75" fill="#c4f830"/><ellipse cx="100" cy="312" rx="11.049999999999999" ry="16.25" fill="#ffe400"/><ellipse cx="100" cy="312" rx="6.8" ry="10.0" fill="#ff8a00"/><ellipse cx="100" cy="312" rx="4.25" ry="6.25" fill="#e80c08"/><ellipse cx="104" cy="385" rx="14" ry="40" fill="#4cf884"/><ellipse cx="105" cy="412" rx="26.0" ry="26.0" fill="#4cf884"/><ellipse cx="105" cy="412" rx="16.0" ry="16.0" fill="#c4f830"/><ellipse cx="105" cy="412" rx="8.0" ry="8.0" fill="#ffe400"/><ellipse cx="40" cy="380" rx="21.0" ry="21.0" fill="#1478ff"/><ellipse cx="40" cy="380" rx="15.0" ry="15.0" fill="#16d8f4"/><ellipse cx="40" cy="380" rx="7.5" ry="7.5" fill="#4cf884"/><ellipse cx="185" cy="380" rx="23.0" ry="23.0" fill="#1478ff"/><ellipse cx="185" cy="380" rx="17.0" ry="17.0" fill="#16d8f4"/><ellipse cx="185" cy="380" rx="8.5" ry="8.5" fill="#4cf884"/><ellipse cx="75" cy="388" rx="20.0" ry="20.0" fill="#1478ff"/><ellipse cx="75" cy="388" rx="14.0" ry="14.0" fill="#16d8f4"/><ellipse cx="75" cy="388" rx="7.0" ry="7.0" fill="#4cf884"/><ellipse cx="132" cy="380" rx="20.0" ry="20.0" fill="#1478ff"/><ellipse cx="132" cy="380" rx="14.0" ry="14.0" fill="#16d8f4"/><ellipse cx="132" cy="380" rx="7.0" ry="7.0" fill="#4cf884"/><ellipse cx="312" cy="355" rx="62" ry="95" fill="#1428ff"/><ellipse cx="314" cy="350" rx="36" ry="78" fill="#1478ff"/><ellipse cx="315" cy="350" rx="22" ry="62" fill="#16d8f4"/><ellipse cx="312" cy="312" rx="20.4" ry="30.0" fill="#4cf884"/><ellipse cx="312" cy="312" rx="14.45" ry="21.25" fill="#c4f830"/><ellipse cx="312" cy="312" rx="9.35" ry="13.75" fill="#ffe400"/><ellipse cx="312" cy="312" rx="5.95" ry="8.75" fill="#ff8a00"/><ellipse cx="312" cy="312" rx="3.8249999999999997" ry="5.625" fill="#e80c08"/><ellipse cx="318" cy="365" rx="8" ry="30" fill="#4cf884"/><ellipse cx="240" cy="380" rx="19.0" ry="19.0" fill="#1478ff"/><ellipse cx="240" cy="380" rx="13.0" ry="13.0" fill="#16d8f4"/><ellipse cx="392" cy="368" rx="19.0" ry="19.0" fill="#1478ff"/><ellipse cx="392" cy="368" rx="13.0" ry="13.0" fill="#16d8f4"/><ellipse cx="290" cy="402" rx="19.0" ry="19.0" fill="#1478ff"/><ellipse cx="290" cy="402" rx="13.0" ry="13.0" fill="#16d8f4"/><ellipse cx="328" cy="405" rx="19.0" ry="19.0" fill="#1478ff"/><ellipse cx="328" cy="405" rx="13.0" ry="13.0" fill="#16d8f4"/><ellipse cx="268" cy="395" rx="16.0" ry="16.0" fill="#1478ff"/><ellipse cx="268" cy="395" rx="10.0" ry="10.0" fill="#16d8f4"/></g>

</g></g>
<clipPath id="mc4"><rect x="25" y="38" width="400" height="514"/></clipPath>
<g transform="translate(406 118) scale(0.11334)"><g clip-path="url(#mc4)">
<rect x="25" y="38" width="400" height="514" fill="#1e1e1e"/>
<g filter="url(#blur6)"><rect x="53.0" y="38" width="14" height="182" fill="#3a3a3a" opacity="0.6"/><rect x="208.0" y="38" width="14" height="182" fill="#3a3a3a" opacity="0.6"/><rect x="228.0" y="38" width="14" height="182" fill="#3a3a3a" opacity="0.6"/><rect x="398.0" y="38" width="14" height="182" fill="#3a3a3a" opacity="0.6"/><rect x="25" y="470" width="400" height="82" fill="#343434" opacity="0.35"/></g>
<g filter="url(#blur3)"><path d="M130 455V552" stroke="#a8a8a8" stroke-width="8" fill="none"/><path d="M318 422V552" stroke="#a8a8a8" stroke-width="8" fill="none"/><path d="M85.0 452.0C81.7 460.4 77.8 469.8 72.0 485.0C66.2 500.2 64.5 505.2 62.0 512.0" fill="none" stroke="#b4b4b4" stroke-width="10" stroke-linecap="round"/><path d="M160.0 452.0C165.1 460.4 170.4 469.8 180.0 485.0C189.6 500.2 193.4 505.2 198.0 512.0" fill="none" stroke="#b4b4b4" stroke-width="10" stroke-linecap="round"/><path d="M272.0 412.0C271.0 420.4 269.8 430.3 268.0 445.0C266.2 459.7 265.8 463.7 265.0 470.0" fill="none" stroke="#b4b4b4" stroke-width="10" stroke-linecap="round"/><path d="M378.0 398.0C383.1 398.5 389.4 397.5 398.0 400.0C406.6 402.5 408.5 406.0 412.0 408.0" fill="none" stroke="#b4b4b4" stroke-width="10" stroke-linecap="round"/></g>
<g filter="url(#blur5)"><path d="M125.0 98.0C137.7 98.0 138.6 109.3 150.0 125.0C161.4 140.7 160.4 146.1 170.0 160.0C179.6 173.9 185.5 166.1 188.0 180.0C190.5 193.9 180.8 192.2 180.0 215.0C179.2 237.8 179.9 240.9 185.0 270.0C190.1 299.1 194.9 300.9 200.0 330.0C205.1 359.1 207.5 359.7 205.0 385.0C202.5 410.3 203.9 411.0 190.0 430.0C176.1 449.0 170.3 451.9 150.0 460.0C129.7 468.1 129.0 465.8 110.0 462.0C91.0 458.2 90.2 458.2 75.0 445.0C59.8 431.8 57.6 431.5 50.0 410.0C42.4 388.5 44.5 387.9 45.0 360.0C45.5 332.1 48.2 327.9 52.0 300.0C55.8 272.1 58.5 272.8 60.0 250.0C61.5 227.2 63.1 225.2 58.0 210.0C52.9 194.8 37.0 202.7 40.0 190.0C43.0 177.3 54.8 176.5 70.0 160.0C85.2 143.5 86.1 140.7 100.0 125.0C113.9 109.3 112.3 98.0 125.0 98.0Z" fill="#a2a2a2" stroke="#a2a2a2" stroke-width="6" stroke-linejoin="round"/><path d="M124.5 107.0C135.9 107.0 136.8 117.7 147.0 132.7C157.3 147.6 156.4 152.7 165.0 165.9C173.7 179.1 178.9 171.7 181.2 184.9C183.5 198.1 174.7 196.5 174.0 218.2C173.3 239.8 174.0 242.7 178.5 270.4C183.1 298.1 187.5 299.7 192.0 327.4C196.6 355.1 198.8 355.6 196.5 379.7C194.2 403.7 195.6 404.4 183.0 422.4C170.5 440.5 165.3 443.2 147.0 450.9C128.8 458.6 128.1 456.4 111.0 452.8C93.9 449.2 93.2 449.2 79.5 436.7C65.8 424.1 63.9 423.9 57.0 403.4C50.2 383.0 52.1 382.4 52.5 355.9C53.0 329.4 55.4 325.4 58.8 298.9C62.2 272.4 64.6 273.1 66.0 251.4C67.4 229.8 68.8 227.9 64.2 213.4C59.7 199.0 45.3 206.4 48.0 194.4C50.8 182.4 61.3 181.6 75.0 165.9C88.7 150.3 89.5 147.6 102.0 132.7C114.6 117.7 113.1 107.0 124.5 107.0Z" fill="#c4c4c4"/><path d="M123.7 123.2C133.1 123.2 133.8 132.9 142.2 146.5C150.7 160.0 149.9 164.6 157.0 176.6C164.2 188.5 168.5 181.8 170.4 193.8C172.2 205.7 165.0 204.2 164.4 223.9C163.9 243.5 164.4 246.1 168.1 271.2C171.9 296.2 175.5 297.7 179.2 322.8C183.0 347.8 184.8 348.3 182.9 370.1C181.1 391.8 182.1 392.4 171.8 408.8C161.5 425.1 157.2 427.6 142.2 434.6C127.2 441.5 126.7 439.5 112.6 436.3C98.6 433.0 98.0 433.0 86.7 421.7C75.5 410.3 73.9 410.1 68.2 391.6C62.6 373.0 64.2 372.5 64.5 348.6C64.9 324.6 66.9 320.9 69.7 297.0C72.5 273.0 74.5 273.6 75.6 254.0C76.8 234.3 77.9 232.6 74.2 219.6C70.4 206.5 58.6 213.2 60.8 202.4C63.1 191.5 71.8 190.7 83.0 176.6C94.3 162.4 94.9 160.0 105.2 146.5C115.5 132.9 114.4 123.2 123.7 123.2Z" fill="url(#mgB)"/><path d="M320.0 92.0C332.7 92.0 333.6 105.3 345.0 120.0C356.4 134.7 353.6 136.1 365.0 150.0C376.4 163.9 387.5 158.5 390.0 175.0C392.5 191.5 377.5 192.2 375.0 215.0C372.5 237.8 374.9 238.4 380.0 265.0C385.1 291.6 390.4 294.7 395.0 320.0C399.6 345.3 401.8 343.5 398.0 365.0C394.2 386.5 394.7 389.8 380.0 405.0C365.3 420.2 360.3 419.9 340.0 425.0C319.7 430.1 319.8 430.1 300.0 425.0C280.2 419.9 277.2 418.9 262.0 405.0C246.8 391.1 246.1 391.5 240.0 370.0C233.9 348.5 235.5 345.3 238.0 320.0C240.5 294.7 245.7 296.6 250.0 270.0C254.3 243.4 256.3 237.8 255.0 215.0C253.7 192.2 241.2 196.5 245.0 180.0C248.8 163.5 257.3 165.2 270.0 150.0C282.7 134.8 282.3 134.7 295.0 120.0C307.7 105.3 307.3 92.0 320.0 92.0Z" fill="#a2a2a2" stroke="#a2a2a2" stroke-width="6" stroke-linejoin="round"/><path d="M319.8 100.5C331.2 100.5 332.0 113.2 342.3 127.1C352.6 141.1 350.0 142.4 360.3 155.6C370.6 168.9 380.5 163.7 382.8 179.4C385.1 195.0 371.6 195.7 369.3 217.4C367.0 239.0 369.2 239.6 373.8 264.9C378.4 290.1 383.2 293.1 387.3 317.1C391.4 341.2 393.4 339.4 390.0 359.9C386.6 380.3 387.0 383.4 373.8 397.9C360.6 412.3 356.0 412.1 337.8 416.9C319.6 421.7 319.6 421.7 301.8 416.9C284.0 412.1 281.3 411.1 267.6 397.9C253.9 384.6 253.3 385.1 247.8 364.6C242.3 344.2 243.7 341.2 246.0 317.1C248.3 293.1 252.9 294.9 256.8 269.6C260.7 244.4 262.4 239.0 261.3 217.4C260.2 195.7 248.9 199.8 252.3 184.1C255.7 168.5 263.4 170.1 274.8 155.6C286.2 141.2 285.9 141.1 297.3 127.1C308.7 113.2 308.4 100.5 319.8 100.5Z" fill="#c4c4c4"/><path d="M319.5 115.9C328.9 115.9 329.6 127.3 338.0 139.9C346.4 152.6 344.4 153.8 352.8 165.7C361.2 177.7 369.4 173.1 371.3 187.2C373.2 201.4 362.1 202.0 360.2 221.6C358.3 241.3 360.1 241.8 363.9 264.6C367.6 287.5 371.6 290.2 375.0 311.9C378.4 333.7 380.0 332.1 377.2 350.6C374.4 369.2 374.8 372.0 363.9 385.0C353.0 398.1 349.3 397.9 334.3 402.2C319.3 406.6 319.3 406.6 304.7 402.2C290.1 397.9 287.8 397.0 276.6 385.0C265.3 373.1 264.8 373.5 260.3 354.9C255.8 336.4 256.9 333.7 258.8 311.9C260.7 290.2 264.5 291.8 267.7 268.9C270.9 246.1 272.3 241.3 271.4 221.6C270.5 202.0 261.2 205.7 264.0 191.5C266.8 177.4 273.1 178.8 282.5 165.7C291.9 152.7 291.6 152.6 301.0 139.9C310.4 127.3 310.1 115.9 319.5 115.9Z" fill="url(#mgB)"/></g>
<g filter="url(#blur3)"><ellipse cx="110" cy="140" rx="22" ry="11" fill="#4a14ee"/><ellipse cx="108" cy="176" rx="13" ry="9" fill="#4a14ee"/><path d="M85.0 320.0C97.7 311.9 103.5 310.4 120.0 318.0C136.5 325.6 140.4 329.2 150.0 350.0C159.6 370.8 159.3 375.9 158.0 400.0C156.7 424.1 155.9 430.3 145.0 445.0C134.1 459.7 130.2 459.3 115.0 458.0C99.8 456.7 96.9 454.7 85.0 440.0C73.1 425.3 71.8 422.8 68.0 400.0C64.2 377.2 65.7 370.3 70.0 350.0C74.3 329.7 72.3 328.1 85.0 320.0Z" fill="#4a14ee"/><ellipse cx="65" cy="330" rx="8" ry="8" fill="#4a14ee"/><ellipse cx="45" cy="385" rx="7" ry="8" fill="#4a14ee"/><ellipse cx="320" cy="120" rx="11" ry="10" fill="#4a14ee"/><ellipse cx="318" cy="242" rx="20" ry="24" fill="#4a14ee"/><path d="M285.0 285.0C302.7 273.1 304.8 274.2 320.0 278.0C335.2 281.8 331.8 285.6 345.0 300.0C358.2 314.4 364.4 317.3 372.0 335.0C379.6 352.7 380.6 353.5 375.0 370.0C369.4 386.5 366.5 389.4 350.0 400.0C333.5 410.6 330.3 412.0 310.0 412.0C289.7 412.0 287.7 409.4 270.0 400.0C252.3 390.6 250.6 387.7 240.0 375.0C229.4 362.3 225.5 362.7 228.0 350.0C230.5 337.3 235.6 341.5 250.0 325.0C264.4 308.5 267.3 296.9 285.0 285.0Z" fill="#4a14ee"/><ellipse cx="310" cy="345" rx="25" ry="25" fill="#3030ff" opacity="0.7"/><ellipse cx="388" cy="345" rx="9" ry="16" fill="#4a14ee"/><ellipse cx="422" cy="375" rx="6" ry="16" fill="#4a14ee"/></g>

</g></g>
<clipPath id="mc5"><rect x="20" y="38" width="442" height="514"/></clipPath>
<g transform="translate(358 335) scale(0.11001)"><g clip-path="url(#mc5)">
<rect x="20" y="38" width="442" height="514" fill="#1e1e1e"/>
<g filter="url(#blur6)"><rect x="20" y="470" width="442" height="82" fill="#303030" opacity="0.35"/></g>
<g filter="url(#blur3)"><path d="M150 470V552" stroke="#888" stroke-width="7" fill="none"/><path d="M355 465V552" stroke="#aaa" stroke-width="8" fill="none"/></g>
<g filter="url(#blur5)"></g>
<g filter="url(#blur3)"><path d="M165.0 45.0C186.5 50.1 196.0 60.7 215.0 100.0C234.0 139.3 233.7 151.9 240.0 200.0C246.3 248.1 237.5 244.4 240.0 290.0C242.5 335.6 255.1 342.0 250.0 380.0C244.9 418.0 235.2 422.3 220.0 440.0C204.8 457.7 207.7 437.3 190.0 450.0C172.3 462.7 170.3 488.7 150.0 490.0C129.7 491.3 132.8 460.1 110.0 455.0C87.2 449.9 76.5 461.1 60.0 470.0C43.5 478.9 47.5 497.6 45.0 490.0C42.5 482.4 47.5 467.9 50.0 440.0C52.5 412.1 48.7 415.5 55.0 380.0C61.3 344.5 73.7 332.9 75.0 300.0C76.3 267.1 57.5 275.3 60.0 250.0C62.5 224.7 76.1 225.3 85.0 200.0C93.9 174.7 96.3 167.7 95.0 150.0C93.7 132.3 71.1 147.7 80.0 130.0C88.9 112.3 108.5 101.5 130.0 80.0C151.5 58.5 143.5 39.9 165.0 45.0Z" fill="#1428ff" stroke="#4a14ee" stroke-width="6" stroke-linejoin="round"/><path d="M161.1 57.3C180.0 62.2 188.4 72.3 205.1 109.7C221.8 147.1 221.5 159.1 227.1 204.9C232.7 250.7 224.9 247.2 227.1 290.6C229.3 334.0 240.3 340.1 235.9 376.3C231.4 412.4 222.9 416.5 209.5 433.4C196.1 450.3 198.7 430.8 183.1 442.9C167.5 455.0 165.7 479.8 147.9 481.0C130.0 482.2 132.7 452.5 112.7 447.7C92.6 442.8 83.2 453.5 68.7 461.9C54.2 470.4 57.7 488.2 55.5 481.0C53.3 473.7 57.7 459.9 59.9 433.4C62.1 406.9 58.7 410.0 64.3 376.3C69.9 342.5 80.8 331.5 81.9 300.1C83.0 268.7 66.5 276.6 68.7 252.5C70.9 228.4 82.9 229.0 90.7 204.9C98.5 180.8 100.6 174.2 99.5 157.3C98.4 140.4 78.5 155.1 86.3 138.3C94.1 121.4 111.3 111.2 130.3 90.7C149.2 70.2 142.1 52.5 161.1 57.3Z" fill="#16d8f4"/><path d="M157.2 69.7C173.5 74.3 180.7 83.9 195.2 119.4C209.6 154.9 209.4 166.3 214.2 209.8C219.0 253.3 212.2 249.9 214.2 291.2C216.1 332.4 225.6 338.2 221.8 372.5C217.9 406.9 210.5 410.7 199.0 426.8C187.4 442.8 189.6 424.4 176.2 435.8C162.7 447.3 161.2 470.8 145.8 472.0C130.4 473.1 132.7 444.9 115.4 440.3C98.0 435.7 89.9 445.9 77.4 453.9C64.9 461.9 67.9 478.8 66.0 472.0C64.0 465.1 67.8 452.0 69.8 426.8C71.7 401.6 68.8 404.6 73.6 372.5C78.4 340.5 87.8 330.0 88.8 300.2C89.7 270.4 75.4 277.9 77.4 255.0C79.3 232.1 89.6 232.7 96.4 209.8C103.1 186.9 104.9 180.6 104.0 164.6C103.0 148.6 85.8 162.6 92.6 146.5C99.3 130.5 114.2 120.8 130.6 101.3C146.9 81.9 140.8 65.1 157.2 69.7Z" fill="#4cf884"/><path d="M360.0 65.0C385.3 67.5 392.3 75.8 410.0 110.0C427.7 144.2 424.9 156.9 430.0 200.0C435.1 243.1 427.5 244.5 430.0 280.0C432.5 315.5 432.4 309.6 440.0 340.0C447.6 370.4 454.9 369.6 460.0 400.0C465.1 430.4 475.2 449.9 460.0 460.0C444.8 470.1 425.3 437.5 400.0 440.0C374.7 442.5 380.3 467.5 360.0 470.0C339.7 472.5 347.9 450.0 320.0 450.0C292.1 450.0 266.5 482.7 250.0 470.0C233.5 457.3 252.5 435.5 255.0 400.0C257.5 364.5 253.7 368.0 260.0 330.0C266.3 292.0 273.7 288.0 280.0 250.0C286.3 212.0 287.5 210.4 285.0 180.0C282.5 149.6 263.7 150.3 270.0 130.0C276.3 109.7 287.2 116.5 310.0 100.0C332.8 83.5 334.7 62.5 360.0 65.0Z" fill="#1428ff" stroke="#4a14ee" stroke-width="6" stroke-linejoin="round"/><path d="M359.0 76.2C381.3 78.6 387.4 86.5 403.0 119.0C418.6 151.6 416.2 163.7 420.6 204.7C425.1 245.7 418.4 247.1 420.6 280.9C422.8 314.7 422.7 309.1 429.4 338.0C436.1 367.0 442.6 366.2 447.0 395.1C451.5 424.1 460.4 442.6 447.0 452.2C433.6 461.9 416.5 430.8 394.2 433.2C371.9 435.6 376.8 459.4 359.0 461.8C341.2 464.2 348.3 442.7 323.8 442.7C299.3 442.7 276.7 473.8 262.2 461.8C247.7 449.7 264.4 428.9 266.6 395.1C268.8 361.4 265.4 364.7 271.0 328.5C276.6 292.3 283.0 288.5 288.6 252.3C294.2 216.2 295.2 214.6 293.0 185.7C290.8 156.7 274.2 157.4 279.8 138.1C285.4 118.8 294.9 125.2 315.0 109.5C335.1 93.9 336.7 73.8 359.0 76.2Z" fill="#16d8f4"/><path d="M358.0 87.4C377.3 89.7 382.5 97.2 396.0 128.1C409.5 159.0 407.4 170.5 411.2 209.5C415.1 248.4 409.3 249.7 411.2 281.8C413.1 313.8 413.0 308.5 418.8 336.0C424.6 363.5 430.2 362.8 434.0 390.3C437.9 417.7 445.6 435.3 434.0 444.5C422.5 453.7 407.7 424.1 388.4 426.4C369.2 428.7 373.4 451.2 358.0 453.5C342.6 455.8 348.8 435.5 327.6 435.5C306.4 435.5 286.9 465.0 274.4 453.5C261.9 442.1 276.3 422.3 278.2 390.3C280.1 358.2 277.2 361.3 282.0 327.0C286.8 292.6 292.4 289.0 297.2 254.7C302.0 220.3 302.9 218.9 301.0 191.4C299.1 163.9 284.8 164.5 289.6 146.2C294.4 127.9 302.7 133.9 320.0 119.1C337.4 104.2 338.8 85.1 358.0 87.4Z" fill="#4cf884"/><ellipse cx="145" cy="190" rx="40" ry="14" fill="#16d8f4"/><ellipse cx="345" cy="180" rx="45" ry="12" fill="#c4f830"/><ellipse cx="215" cy="330" rx="14" ry="60" fill="#c4f830"/><ellipse cx="415" cy="300" rx="12" ry="60" fill="#c4f830"/><ellipse cx="170" cy="105" rx="35" ry="50" fill="#e80c08"/><ellipse cx="170" cy="105" rx="50" ry="64" fill="#c4f830"/><ellipse cx="170" cy="105" rx="42" ry="57" fill="#ffe400"/><ellipse cx="170" cy="105" rx="35" ry="50" fill="#e80c08"/><ellipse cx="350" cy="115" rx="62" ry="46" fill="#c4f830" transform="rotate(-35 350 115)"/><ellipse cx="350" cy="115" rx="54" ry="39" fill="#ffe400" transform="rotate(-35 350 115)"/><ellipse cx="350" cy="115" rx="47" ry="32" fill="#e80c08" transform="rotate(-35 350 115)"/><path d="M131.3 232.8C153.7 222.7 159.0 214.8 177.8 220.7C196.7 226.6 199.8 235.3 205.7 256.1C211.6 276.8 203.4 279.0 201.1 302.6C198.7 326.1 196.4 325.5 196.4 349.1C196.4 372.6 205.8 374.3 201.1 395.6C196.4 416.8 190.8 415.8 177.8 432.8C164.9 449.7 164.1 462.5 149.9 462.5C135.8 462.5 133.8 452.1 122.0 432.8C110.3 413.4 109.3 409.8 103.4 386.3C97.5 362.7 104.0 361.0 98.8 339.8C93.6 318.5 85.3 322.6 83.0 302.6C80.6 282.5 77.2 278.4 89.5 260.7C101.7 243.0 109.0 242.9 131.3 232.8Z" fill="#c4f830" stroke="#c4f830" stroke-width="36" stroke-linejoin="round"/><path d="M131.3 232.8C153.7 222.7 159.0 214.8 177.8 220.7C196.7 226.6 199.8 235.3 205.7 256.1C211.6 276.8 203.4 279.0 201.1 302.6C198.7 326.1 196.4 325.5 196.4 349.1C196.4 372.6 205.8 374.3 201.1 395.6C196.4 416.8 190.8 415.8 177.8 432.8C164.9 449.7 164.1 462.5 149.9 462.5C135.8 462.5 133.8 452.1 122.0 432.8C110.3 413.4 109.3 409.8 103.4 386.3C97.5 362.7 104.0 361.0 98.8 339.8C93.6 318.5 85.3 322.6 83.0 302.6C80.6 282.5 77.2 278.4 89.5 260.7C101.7 243.0 109.0 242.9 131.3 232.8Z" fill="#ffe400" stroke="#ffe400" stroke-width="16" stroke-linejoin="round"/><path d="M131.3 232.8C153.7 222.7 159.0 214.8 177.8 220.7C196.7 226.6 199.8 235.3 205.7 256.1C211.6 276.8 203.4 279.0 201.1 302.6C198.7 326.1 196.4 325.5 196.4 349.1C196.4 372.6 205.8 374.3 201.1 395.6C196.4 416.8 190.8 415.8 177.8 432.8C164.9 449.7 164.1 462.5 149.9 462.5C135.8 462.5 133.8 452.1 122.0 432.8C110.3 413.4 109.3 409.8 103.4 386.3C97.5 362.7 104.0 361.0 98.8 339.8C93.6 318.5 85.3 322.6 83.0 302.6C80.6 282.5 77.2 278.4 89.5 260.7C101.7 243.0 109.0 242.9 131.3 232.8Z" fill="#e80c08"/><path d="M340.6 213.6C358.9 207.7 362.9 210.0 375.9 222.9C388.9 235.9 387.7 240.0 391.7 264.8C395.7 289.5 390.1 292.3 391.7 320.6C393.4 348.8 398.2 352.8 398.2 376.4C398.2 399.9 401.1 396.6 391.7 413.6C382.3 430.5 376.3 443.3 361.0 443.3C345.7 443.3 344.7 428.2 331.3 413.6C317.8 399.0 317.4 404.5 308.0 385.7C298.6 366.8 299.2 361.5 294.1 339.2C288.9 316.8 285.2 320.9 287.5 297.3C289.9 273.8 289.9 267.4 303.4 246.2C316.8 225.0 322.2 219.5 340.6 213.6Z" fill="#c4f830" stroke="#c4f830" stroke-width="36" stroke-linejoin="round"/><path d="M340.6 213.6C358.9 207.7 362.9 210.0 375.9 222.9C388.9 235.9 387.7 240.0 391.7 264.8C395.7 289.5 390.1 292.3 391.7 320.6C393.4 348.8 398.2 352.8 398.2 376.4C398.2 399.9 401.1 396.6 391.7 413.6C382.3 430.5 376.3 443.3 361.0 443.3C345.7 443.3 344.7 428.2 331.3 413.6C317.8 399.0 317.4 404.5 308.0 385.7C298.6 366.8 299.2 361.5 294.1 339.2C288.9 316.8 285.2 320.9 287.5 297.3C289.9 273.8 289.9 267.4 303.4 246.2C316.8 225.0 322.2 219.5 340.6 213.6Z" fill="#ffe400" stroke="#ffe400" stroke-width="16" stroke-linejoin="round"/><path d="M340.6 213.6C358.9 207.7 362.9 210.0 375.9 222.9C388.9 235.9 387.7 240.0 391.7 264.8C395.7 289.5 390.1 292.3 391.7 320.6C393.4 348.8 398.2 352.8 398.2 376.4C398.2 399.9 401.1 396.6 391.7 413.6C382.3 430.5 376.3 443.3 361.0 443.3C345.7 443.3 344.7 428.2 331.3 413.6C317.8 399.0 317.4 404.5 308.0 385.7C298.6 366.8 299.2 361.5 294.1 339.2C288.9 316.8 285.2 320.9 287.5 297.3C289.9 273.8 289.9 267.4 303.4 246.2C316.8 225.0 322.2 219.5 340.6 213.6Z" fill="#e80c08"/><ellipse cx="430" cy="340" rx="13.0" ry="13.0" fill="#ffe400"/><ellipse cx="430" cy="340" rx="9.0" ry="9.0" fill="#e80c08"/><ellipse cx="265" cy="355" rx="15.0" ry="15.0" fill="#ffe400"/><ellipse cx="265" cy="355" rx="11.0" ry="11.0" fill="#e80c08"/><ellipse cx="235" cy="360" rx="13.0" ry="13.0" fill="#ffe400"/><ellipse cx="235" cy="360" rx="9.0" ry="9.0" fill="#e80c08"/><ellipse cx="410" cy="425" rx="12.0" ry="12.0" fill="#ffe400"/><ellipse cx="410" cy="425" rx="8.0" ry="8.0" fill="#e80c08"/><ellipse cx="305" cy="425" rx="13.0" ry="13.0" fill="#ffe400"/><ellipse cx="305" cy="425" rx="9.0" ry="9.0" fill="#e80c08"/><ellipse cx="95" cy="435" rx="12.0" ry="12.0" fill="#ffe400"/><ellipse cx="95" cy="435" rx="8.0" ry="8.0" fill="#e80c08"/><ellipse cx="200" cy="440" rx="11.0" ry="11.0" fill="#ffe400"/><ellipse cx="200" cy="440" rx="7.0" ry="7.0" fill="#e80c08"/><ellipse cx="90" cy="135" rx="11.0" ry="11.0" fill="#ffe400"/><ellipse cx="90" cy="135" rx="7.0" ry="7.0" fill="#e80c08"/></g>

</g></g>
<clipPath id="mc6"><rect x="35" y="38" width="440" height="514"/></clipPath>
<g transform="translate(410 335) scale(0.11001)"><g clip-path="url(#mc6)">
<rect x="35" y="38" width="440" height="514" fill="#1e1e1e"/>
<g filter="url(#blur6)"><rect x="53.0" y="38" width="14" height="212" fill="#3a3a3a" opacity="0.6"/><rect x="233.0" y="38" width="14" height="212" fill="#3a3a3a" opacity="0.6"/><rect x="248.0" y="38" width="14" height="212" fill="#3a3a3a" opacity="0.6"/><rect x="453.0" y="38" width="14" height="212" fill="#3a3a3a" opacity="0.6"/><rect x="35" y="475" width="440" height="77" fill="#343434" opacity="0.35"/></g>
<g filter="url(#blur3)"><path d="M150 470V552" stroke="#a8a8a8" stroke-width="8" fill="none"/><path d="M345 475V552" stroke="#a8a8a8" stroke-width="8" fill="none"/><path d="M75.0 465.0C70.7 470.1 64.8 474.9 58.0 485.0C51.2 495.1 50.5 499.9 48.0 505.0" fill="none" stroke="#b4b4b4" stroke-width="10" stroke-linecap="round"/><path d="M212.0 460.0C217.1 462.5 223.6 463.7 232.0 470.0C240.4 476.3 241.7 481.2 245.0 485.0" fill="none" stroke="#b4b4b4" stroke-width="10" stroke-linecap="round"/><path d="M290.0 462.0C288.7 467.8 287.0 475.9 285.0 485.0C283.0 494.1 282.8 494.7 282.0 498.0" fill="none" stroke="#b4b4b4" stroke-width="10" stroke-linecap="round"/><path d="M420.0 455.0C424.6 453.7 429.9 453.8 438.0 450.0C446.1 446.2 448.5 442.5 452.0 440.0" fill="none" stroke="#b4b4b4" stroke-width="10" stroke-linecap="round"/></g>
<g filter="url(#blur5)"><path d="M150.0 48.0C163.9 46.7 163.6 64.3 175.0 80.0C186.4 95.7 182.3 94.8 195.0 110.0C207.7 125.2 219.9 122.3 225.0 140.0C230.1 157.7 216.3 154.7 215.0 180.0C213.7 205.3 214.9 209.6 220.0 240.0C225.1 270.4 229.9 267.1 235.0 300.0C240.1 332.9 242.5 337.1 240.0 370.0C237.5 402.9 237.7 405.9 225.0 430.0C212.3 454.1 209.0 453.6 190.0 465.0C171.0 476.4 172.8 475.0 150.0 475.0C127.2 475.0 122.8 476.4 100.0 465.0C77.2 453.6 74.7 451.5 60.0 430.0C45.3 408.5 44.5 407.9 42.0 380.0C39.5 352.1 44.2 350.4 50.0 320.0C55.8 289.6 58.7 290.4 65.0 260.0C71.3 229.6 73.7 227.9 75.0 200.0C76.3 172.1 66.2 170.3 70.0 150.0C73.8 129.7 77.3 136.5 90.0 120.0C102.7 103.5 104.8 103.2 120.0 85.0C135.2 66.8 136.1 49.3 150.0 48.0Z" fill="#a2a2a2" stroke="#a2a2a2" stroke-width="6" stroke-linejoin="round"/><path d="M149.5 58.7C162.0 57.5 161.7 74.2 172.0 89.1C182.2 104.0 178.6 103.2 190.0 117.6C201.4 132.1 212.4 129.3 217.0 146.1C221.5 163.0 209.1 160.1 208.0 184.1C206.8 208.2 207.9 212.2 212.5 241.1C217.0 270.0 221.4 266.8 226.0 298.1C230.5 329.4 232.7 333.3 230.5 364.6C228.2 395.9 228.4 398.8 217.0 421.6C205.6 444.5 202.6 444.0 185.5 454.9C168.4 465.7 170.0 464.4 149.5 464.4C128.9 464.4 125.0 465.7 104.5 454.9C83.9 444.0 81.7 442.1 68.5 421.6C55.2 401.2 54.5 400.6 52.3 374.1C50.0 347.6 54.2 346.0 59.5 317.1C64.7 288.2 67.3 289.0 73.0 260.1C78.7 231.2 80.8 229.6 82.0 203.1C83.1 176.6 74.0 174.9 77.5 155.6C80.9 136.4 84.1 142.8 95.5 127.1C106.9 111.5 108.8 111.2 122.5 93.9C136.1 76.5 136.9 59.9 149.5 58.7Z" fill="#c4c4c4"/><path d="M148.6 78.0C158.9 76.9 158.7 92.0 167.1 105.5C175.5 119.0 172.5 118.3 181.9 131.3C191.3 144.4 200.3 141.9 204.1 157.1C207.8 172.4 197.6 169.7 196.7 191.5C195.8 213.3 196.6 217.0 200.4 243.1C204.1 269.3 207.7 266.4 211.5 294.7C215.2 323.1 217.1 326.6 215.2 354.9C213.3 383.3 213.5 385.8 204.1 406.5C194.7 427.2 192.3 426.8 178.2 436.6C164.1 446.4 165.5 445.2 148.6 445.2C131.7 445.2 128.5 446.4 111.6 436.6C94.7 426.8 92.9 425.1 82.0 406.5C71.1 388.0 70.6 387.5 68.7 363.5C66.8 339.6 70.3 338.1 74.6 311.9C78.9 285.8 81.0 286.5 85.7 260.3C90.4 234.2 92.2 232.7 93.1 208.7C94.0 184.8 86.6 183.2 89.4 165.7C92.2 148.3 94.8 154.1 104.2 139.9C113.6 125.8 115.1 125.5 126.4 109.8C137.6 94.1 138.3 79.1 148.6 78.0Z" fill="url(#mgA)"/></g>
<g filter="url(#blur3)"><ellipse cx="130" cy="120" rx="22" ry="22" fill="#4a14ee"/><ellipse cx="140" cy="82" rx="8" ry="22" fill="#4a14ee"/><path d="M120.0 240.0C128.9 234.9 140.4 234.8 150.0 250.0C159.6 265.2 158.0 277.2 158.0 300.0C158.0 322.8 148.2 314.7 150.0 340.0C151.8 365.3 156.1 374.7 165.0 400.0C173.9 425.3 183.7 421.0 185.0 440.0C186.3 459.0 181.4 463.6 170.0 475.0C158.6 486.4 152.7 491.3 140.0 485.0C127.3 478.7 125.1 471.5 120.0 450.0C114.9 428.5 117.5 425.3 120.0 400.0C122.5 374.7 135.1 367.7 130.0 350.0C124.9 332.3 115.2 337.6 100.0 330.0C84.8 322.4 78.1 330.1 70.0 320.0C61.9 309.9 61.7 300.1 68.0 290.0C74.3 279.9 83.1 285.1 95.0 280.0C106.9 274.9 108.7 280.1 115.0 270.0C121.3 259.9 111.1 245.1 120.0 240.0Z" fill="#4a14ee"/><ellipse cx="150" cy="440" rx="22" ry="30" fill="#2a30ff" opacity="0.8"/><path d="M365.0 60.0C378.9 61.3 386.1 67.3 400.0 85.0C413.9 102.7 406.1 113.5 420.0 130.0C433.9 146.5 448.7 132.3 455.0 150.0C461.3 167.7 448.8 172.1 445.0 200.0C441.2 227.9 438.7 227.1 440.0 260.0C441.3 292.9 446.2 299.6 450.0 330.0C453.8 360.4 457.5 354.7 455.0 380.0C452.5 405.3 453.9 407.2 440.0 430.0C426.1 452.8 422.8 456.1 400.0 470.0C377.2 483.9 375.3 486.3 350.0 485.0C324.7 483.7 321.5 481.5 300.0 465.0C278.5 448.5 276.4 446.6 265.0 420.0C253.6 393.4 255.0 390.4 255.0 360.0C255.0 329.6 257.4 327.9 265.0 300.0C272.6 272.1 273.6 275.3 285.0 250.0C296.4 224.7 299.9 222.8 310.0 200.0C320.1 177.2 319.9 182.8 325.0 160.0C330.1 137.2 324.9 130.3 330.0 110.0C335.1 89.7 336.1 92.7 345.0 80.0C353.9 67.3 351.1 58.7 365.0 60.0Z" fill="#4a14ee"/><ellipse cx="345" cy="180" rx="20" ry="8" fill="#ddd" opacity="0.8"/><ellipse cx="440" cy="150" rx="10" ry="10" fill="#bbb" opacity="0.8"/><path d="M335.0 220.0C351.2 212.4 358.1 199.9 372.0 210.0C385.9 220.1 384.2 229.6 390.0 260.0C395.8 290.4 395.5 294.5 395.0 330.0C394.5 365.5 394.8 369.1 388.0 400.0C381.2 430.9 379.7 434.3 368.0 452.0C356.3 469.7 356.2 473.5 342.0 470.0C327.8 466.5 323.7 460.8 312.0 438.0C300.3 415.2 302.1 409.9 296.0 380.0C289.9 350.1 289.0 347.4 288.0 320.0C287.0 292.6 286.9 292.3 292.0 272.0C297.1 251.7 297.1 253.2 308.0 240.0C318.9 226.8 318.8 227.6 335.0 220.0Z" fill="#1428ff" stroke="#1428ff" stroke-width="22" stroke-linejoin="round"/><path d="M335.0 220.0C351.2 212.4 358.1 199.9 372.0 210.0C385.9 220.1 384.2 229.6 390.0 260.0C395.8 290.4 395.5 294.5 395.0 330.0C394.5 365.5 394.8 369.1 388.0 400.0C381.2 430.9 379.7 434.3 368.0 452.0C356.3 469.7 356.2 473.5 342.0 470.0C327.8 466.5 323.7 460.8 312.0 438.0C300.3 415.2 302.1 409.9 296.0 380.0C289.9 350.1 289.0 347.4 288.0 320.0C287.0 292.6 286.9 292.3 292.0 272.0C297.1 251.7 297.1 253.2 308.0 240.0C318.9 226.8 318.8 227.6 335.0 220.0Z" fill="#1478ff" stroke="#1478ff" stroke-width="10" stroke-linejoin="round"/><path d="M335.0 220.0C351.2 212.4 358.1 199.9 372.0 210.0C385.9 220.1 384.2 229.6 390.0 260.0C395.8 290.4 395.5 294.5 395.0 330.0C394.5 365.5 394.8 369.1 388.0 400.0C381.2 430.9 379.7 434.3 368.0 452.0C356.3 469.7 356.2 473.5 342.0 470.0C327.8 466.5 323.7 460.8 312.0 438.0C300.3 415.2 302.1 409.9 296.0 380.0C289.9 350.1 289.0 347.4 288.0 320.0C287.0 292.6 286.9 292.3 292.0 272.0C297.1 251.7 297.1 253.2 308.0 240.0C318.9 226.8 318.8 227.6 335.0 220.0Z" fill="#16d8f4"/><path d="M336.2 227.4C348.9 220.3 354.2 208.6 365.1 218.1C375.9 227.6 374.6 236.4 379.1 264.8C383.7 293.2 383.4 297.1 383.0 330.2C382.6 363.3 382.9 366.7 377.6 395.6C372.2 424.4 371.0 427.6 361.9 444.1C352.9 460.7 352.7 464.2 341.7 460.9C330.6 457.6 327.4 452.3 318.3 431.0C309.2 409.8 310.5 404.8 305.8 376.9C301.0 349.0 300.3 346.4 299.6 320.8C298.8 295.3 298.7 294.9 302.7 276.0C306.6 257.1 306.7 258.4 315.1 246.1C323.6 233.8 323.6 234.5 336.2 227.4Z" fill="#4cf884"/><path d="M337.8 236.9C345.9 230.4 349.3 219.8 356.2 228.4C363.2 237.0 362.3 245.1 365.2 270.9C368.2 296.7 368.0 300.3 367.8 330.4C367.5 360.5 367.7 363.6 364.2 389.9C360.8 416.2 360.1 419.0 354.2 434.1C348.4 449.2 348.3 452.4 341.2 449.4C334.2 446.4 332.1 441.6 326.2 422.2C320.4 402.8 321.3 398.3 318.2 372.9C315.2 347.5 314.8 345.2 314.2 321.9C313.7 298.6 313.7 298.3 316.2 281.1C318.8 263.9 318.8 265.1 324.2 253.9C329.7 242.7 329.6 243.4 337.8 236.9Z" fill="#c4f830"/><ellipse cx="338" cy="345" rx="10" ry="75" fill="#ffe400"/><ellipse cx="295" cy="295" rx="28.0" ry="28.0" fill="#16d8f4"/><ellipse cx="295" cy="295" rx="23.0" ry="23.0" fill="#4cf884"/><ellipse cx="295" cy="295" rx="18.0" ry="18.0" fill="#ffe400"/><ellipse cx="295" cy="295" rx="13.0" ry="13.0" fill="#e80c08"/><ellipse cx="340" cy="255" rx="7" ry="16" fill="#e80c08" transform="rotate(30 340 255)"/><ellipse cx="342" cy="430" rx="8" ry="24" fill="#e80c08"/><ellipse cx="365" cy="85" rx="18.0" ry="18.0" fill="#16d8f4"/><ellipse cx="365" cy="85" rx="12.0" ry="12.0" fill="#4cf884"/><ellipse cx="365" cy="85" rx="7.0" ry="7.0" fill="#ffe400"/><ellipse cx="365" cy="85" rx="3.0" ry="3.0" fill="#e80c08"/><ellipse cx="380" cy="132" rx="15.0" ry="15.0" fill="#16d8f4"/><ellipse cx="380" cy="132" rx="9.0" ry="9.0" fill="#4cf884"/><ellipse cx="440" cy="370" rx="14.0" ry="14.0" fill="#1478ff"/><ellipse cx="440" cy="370" rx="9.0" ry="9.0" fill="#16d8f4"/><ellipse cx="270" cy="350" rx="12.0" ry="12.0" fill="#1478ff"/><ellipse cx="270" cy="350" rx="7.0" ry="7.0" fill="#16d8f4"/><ellipse cx="472" cy="390" rx="5" ry="18" fill="#4a14ee"/></g>

</g></g>
<clipPath id="mc7"><rect x="22" y="38" width="440" height="512"/></clipPath>
<g transform="translate(358 420) scale(0.11001)"><g clip-path="url(#mc7)">
<rect x="22" y="38" width="440" height="512" fill="#1e1e1e"/>
<g filter="url(#blur6)"><rect x="228.0" y="38" width="14" height="212" fill="#383838" opacity="0.6"/><rect x="243.0" y="38" width="14" height="212" fill="#383838" opacity="0.6"/><rect x="433.0" y="38" width="14" height="212" fill="#383838" opacity="0.6"/><rect x="22" y="465" width="440" height="85" fill="#343434" opacity="0.35"/></g>
<g filter="url(#blur3)"><path d="M120 465V550" stroke="#a8a8a8" stroke-width="8" fill="none"/><path d="M350 440V550" stroke="#a8a8a8" stroke-width="8" fill="none"/><path d="M65.0 445.0C58.7 451.3 49.4 458.1 40.0 470.0C30.6 481.9 31.0 486.4 28.0 492.0" fill="none" stroke="#b4b4b4" stroke-width="10" stroke-linecap="round"/><path d="M185.0 448.0C192.6 453.6 202.3 459.4 215.0 470.0C227.7 480.6 229.9 484.9 235.0 490.0" fill="none" stroke="#b4b4b4" stroke-width="10" stroke-linecap="round"/><path d="M300.0 430.0C296.2 437.6 290.6 446.1 285.0 460.0C279.4 473.9 279.8 478.7 278.0 485.0" fill="none" stroke="#b4b4b4" stroke-width="10" stroke-linecap="round"/><path d="M400.0 425.0C406.3 428.8 413.6 428.6 425.0 440.0C436.4 451.4 439.9 462.4 445.0 470.0" fill="none" stroke="#b4b4b4" stroke-width="10" stroke-linecap="round"/></g>
<g filter="url(#blur5)"><path d="M125.0 58.0C142.7 58.0 144.8 66.8 160.0 85.0C175.2 103.2 174.9 108.5 185.0 130.0C195.1 151.5 197.5 147.2 200.0 170.0C202.5 192.8 193.7 192.1 195.0 220.0C196.3 247.9 199.9 249.6 205.0 280.0C210.1 310.4 213.7 309.6 215.0 340.0C216.3 370.4 217.6 373.4 210.0 400.0C202.4 426.6 202.7 427.3 185.0 445.0C167.3 462.7 161.5 464.9 140.0 470.0C118.5 475.1 120.3 472.6 100.0 465.0C79.7 457.4 75.7 459.0 60.0 440.0C44.3 421.0 43.1 417.9 38.0 390.0C32.9 362.1 37.0 360.4 40.0 330.0C43.0 299.6 44.9 300.4 50.0 270.0C55.1 239.6 60.0 235.3 60.0 210.0C60.0 184.7 50.0 192.8 50.0 170.0C50.0 147.2 49.9 141.5 60.0 120.0C70.1 98.5 73.5 100.7 90.0 85.0C106.5 69.3 107.3 58.0 125.0 58.0Z" fill="#a2a2a2" stroke="#a2a2a2" stroke-width="6" stroke-linejoin="round"/><path d="M125.0 68.5C140.9 68.5 142.8 76.8 156.5 94.1C170.1 111.4 169.8 116.4 179.0 136.9C188.1 157.3 190.2 153.2 192.5 174.9C194.7 196.5 186.8 195.9 188.0 222.4C189.1 248.8 192.4 250.5 197.0 279.4C201.5 308.2 204.8 307.5 206.0 336.4C207.1 365.2 208.3 368.1 201.5 393.4C194.6 418.6 194.9 419.3 179.0 436.1C163.0 453.0 157.8 455.0 138.5 459.9C119.1 464.7 120.7 462.3 102.5 455.1C84.2 447.9 80.6 449.4 66.5 431.4C52.3 413.3 51.2 410.3 46.7 383.9C42.1 357.4 45.7 355.7 48.5 326.9C51.2 298.0 52.9 298.7 57.5 269.9C62.0 241.0 66.5 236.9 66.5 212.9C66.5 188.8 57.5 196.5 57.5 174.9C57.5 153.2 57.3 147.8 66.5 127.4C75.6 106.9 78.6 109.0 93.5 94.1C108.3 79.2 109.0 68.5 125.0 68.5Z" fill="#c4c4c4"/><path d="M124.9 87.3C138.0 87.3 139.6 94.8 150.8 110.5C162.1 126.2 161.8 130.7 169.3 149.2C176.8 167.7 178.5 164.0 180.4 183.6C182.3 203.2 175.8 202.7 176.7 226.6C177.6 250.6 180.4 252.1 184.1 278.2C187.9 304.4 190.6 303.7 191.5 329.8C192.4 356.0 193.4 358.5 187.8 381.4C182.2 404.3 182.4 404.9 169.3 420.1C156.2 435.4 151.9 437.3 136.0 441.6C120.1 446.0 121.4 443.9 106.4 437.3C91.4 430.8 88.4 432.2 76.8 415.8C65.2 399.5 64.3 396.8 60.5 372.8C56.8 348.9 59.8 347.4 62.0 321.2C64.3 295.1 65.7 295.8 69.4 269.6C73.2 243.5 76.8 239.8 76.8 218.0C76.8 196.2 69.4 203.2 69.4 183.6C69.4 164.0 69.3 159.1 76.8 140.6C84.3 122.1 86.8 124.0 99.0 110.5C111.2 97.0 111.8 87.3 124.9 87.3Z" fill="url(#mgB)"/><path d="M340.0 48.0C353.9 48.0 356.1 61.8 370.0 80.0C383.9 98.2 382.3 102.3 395.0 120.0C407.7 137.7 416.2 129.7 420.0 150.0C423.8 170.3 411.3 172.1 410.0 200.0C408.7 227.9 409.9 229.6 415.0 260.0C420.1 290.4 426.7 289.6 430.0 320.0C433.3 350.4 434.3 353.4 428.0 380.0C421.7 406.6 422.2 408.5 405.0 425.0C387.8 441.5 384.1 441.2 360.0 445.0C335.9 448.8 332.8 448.9 310.0 440.0C287.2 431.1 284.7 430.3 270.0 410.0C255.3 389.7 255.0 387.9 252.0 360.0C249.0 332.1 253.4 330.4 258.0 300.0C262.6 269.6 265.7 270.4 270.0 240.0C274.3 209.6 276.3 205.3 275.0 180.0C273.7 154.7 261.2 157.7 265.0 140.0C268.8 122.3 277.3 125.2 290.0 110.0C302.7 94.8 302.3 95.7 315.0 80.0C327.7 64.3 326.1 48.0 340.0 48.0Z" fill="#a2a2a2" stroke="#a2a2a2" stroke-width="6" stroke-linejoin="round"/><path d="M340.1 57.9C352.6 57.9 354.6 71.0 367.1 88.3C379.6 105.7 378.2 109.5 389.6 126.3C401.0 143.2 408.7 135.6 412.1 154.8C415.5 174.1 404.2 175.9 403.1 202.3C402.0 228.8 403.0 230.5 407.6 259.3C412.2 288.2 418.1 287.5 421.1 316.3C424.1 345.2 425.0 348.1 419.3 373.3C413.6 398.6 414.1 400.4 398.6 416.1C383.1 431.7 379.8 431.5 358.1 435.1C336.4 438.7 333.6 438.8 313.1 430.3C292.6 421.9 290.3 421.1 277.1 401.8C263.9 382.6 263.6 380.8 260.9 354.3C258.2 327.9 262.2 326.2 266.3 297.3C270.4 268.5 273.2 269.2 277.1 240.3C281.0 211.5 282.7 207.4 281.6 183.3C280.5 159.3 269.2 162.2 272.6 145.3C276.0 128.5 283.7 131.3 295.1 116.8C306.5 102.4 306.2 103.3 317.6 88.3C329.0 73.4 327.6 57.9 340.1 57.9Z" fill="#c4c4c4"/><path d="M340.2 75.8C350.6 75.8 352.1 87.7 362.4 103.3C372.8 119.0 371.6 122.5 380.9 137.7C390.3 153.0 396.6 146.1 399.4 163.5C402.3 181.0 393.0 182.6 392.0 206.5C391.1 230.5 392.0 232.0 395.7 258.1C399.5 284.3 404.4 283.6 406.8 309.7C409.3 335.9 410.1 338.5 405.4 361.3C400.7 384.2 401.1 385.9 388.3 400.0C375.6 414.2 372.9 414.0 355.0 417.2C337.2 420.5 334.9 420.6 318.0 412.9C301.2 405.3 299.3 404.6 288.4 387.1C277.6 369.7 277.4 368.1 275.1 344.1C272.9 320.2 276.2 318.7 279.6 292.5C282.9 266.4 285.3 267.1 288.4 240.9C291.6 214.8 293.1 211.1 292.1 189.3C291.2 167.6 281.9 170.2 284.7 154.9C287.6 139.7 293.9 142.2 303.2 129.1C312.6 116.1 312.4 116.9 321.7 103.3C331.1 89.8 329.9 75.8 340.2 75.8Z" fill="url(#mgA)"/></g>
<g filter="url(#blur3)"><path d="M60.0 130.0C65.1 108.5 69.7 99.7 90.0 85.0C110.3 70.3 121.0 68.2 140.0 72.0C159.0 75.8 158.7 80.2 165.0 100.0C171.3 119.8 171.3 128.5 165.0 150.0C158.7 171.5 156.5 174.9 140.0 185.0C123.5 195.1 117.7 193.8 100.0 190.0C82.3 186.2 80.1 185.2 70.0 170.0C59.9 154.8 54.9 151.5 60.0 130.0Z" fill="#1428ff" stroke="#4a14ee" stroke-width="6" stroke-linejoin="round"/><ellipse cx="110" cy="122" rx="42" ry="30" fill="#1478ff" transform="rotate(-25 110 122)"/><ellipse cx="110" cy="120" rx="36" ry="24" fill="#16d8f4" transform="rotate(-25 110 120)"/><ellipse cx="112" cy="118" rx="30" ry="18" fill="#4cf884" transform="rotate(-25 112 118)"/><ellipse cx="120" cy="110" rx="20" ry="11" fill="#c4f830" transform="rotate(-25 120 110)"/><ellipse cx="122" cy="112" rx="12" ry="7" fill="#ff8a00" transform="rotate(-25 122 112)"/><ellipse cx="150" cy="152" rx="9" ry="6" fill="#ddd"/><path d="M70.0 215.0C89.0 206.1 103.4 201.2 130.0 205.0C156.6 208.8 162.3 208.5 175.0 230.0C187.7 251.5 183.8 262.1 180.0 290.0C176.2 317.9 167.6 312.1 160.0 340.0C152.4 367.9 155.1 372.1 150.0 400.0C144.9 427.9 148.9 432.3 140.0 450.0C131.1 467.7 127.7 470.0 115.0 470.0C102.3 470.0 102.7 467.7 90.0 450.0C77.3 432.3 75.1 427.9 65.0 400.0C54.9 372.1 54.3 370.4 50.0 340.0C45.7 309.6 46.7 305.3 48.0 280.0C49.3 254.7 49.4 256.5 55.0 240.0C60.6 223.5 51.0 223.9 70.0 215.0Z" fill="#4a14ee"/><ellipse cx="100" cy="300" rx="42" ry="90" fill="#1428ff"/><ellipse cx="95" cy="275" rx="32" ry="58" fill="#1478ff"/><ellipse cx="92" cy="270" rx="22" ry="45" fill="#16d8f4" transform="rotate(10 92 270)"/><ellipse cx="100" cy="258" rx="8" ry="26" fill="#4cf884" transform="rotate(15 100 258)"/><ellipse cx="65" cy="295" rx="7" ry="12" fill="#4cf884"/><ellipse cx="115" cy="425" rx="19.200000000000003" ry="33.599999999999994" fill="#1478ff"/><ellipse cx="115" cy="425" rx="12.0" ry="21.0" fill="#16d8f4"/><path d="M330.0 50.0C338.1 47.5 346.2 57.3 350.0 75.0C353.8 92.7 353.9 108.6 345.0 120.0C336.1 131.4 321.8 128.9 315.0 120.0C308.2 111.1 314.2 102.7 318.0 85.0C321.8 67.3 321.9 52.5 330.0 50.0Z" fill="#4a14ee"/><path d="M320.0 200.0C333.2 187.3 356.1 184.8 370.0 200.0C383.9 215.2 375.5 229.6 375.0 260.0C374.5 290.4 371.8 289.6 368.0 320.0C364.2 350.4 364.6 349.6 360.0 380.0C355.4 410.4 358.9 424.8 350.0 440.0C341.1 455.2 332.1 452.7 325.0 440.0C317.9 427.3 320.7 415.3 322.0 390.0C323.3 364.7 331.0 360.3 330.0 340.0C329.0 319.7 331.9 317.6 318.0 310.0C304.1 302.4 289.2 316.3 275.0 310.0C260.8 303.7 262.0 298.9 262.0 285.0C262.0 271.1 260.8 263.9 275.0 255.0C289.2 246.1 306.6 263.9 318.0 250.0C329.4 236.1 306.8 212.7 320.0 200.0Z" fill="#4a14ee"/><ellipse cx="345" cy="270" rx="12" ry="50" fill="#2838ff"/><ellipse cx="282" cy="285" rx="22.0" ry="22.0" fill="#1428ff"/><ellipse cx="282" cy="285" rx="16.0" ry="16.0" fill="#1478ff"/><ellipse cx="282" cy="285" rx="9.0" ry="9.0" fill="#30a0ff"/><ellipse cx="300" cy="430" rx="6" ry="8" fill="#4a14ee"/><ellipse cx="395" cy="425" rx="6" ry="6" fill="#4a14ee"/></g>

</g></g>
<clipPath id="mc8"><rect x="35" y="38" width="437" height="514"/></clipPath>
<g transform="translate(410 420) scale(0.11001)"><g clip-path="url(#mc8)">
<rect x="35" y="38" width="437" height="514" fill="#1e1e1e"/>
<g filter="url(#blur6)"><rect x="53.0" y="38" width="14" height="212" fill="#383838" opacity="0.6"/><rect x="238.0" y="38" width="14" height="212" fill="#383838" opacity="0.6"/><rect x="251.0" y="38" width="14" height="212" fill="#383838" opacity="0.6"/><rect x="453.0" y="38" width="14" height="212" fill="#383838" opacity="0.6"/><rect x="35" y="465" width="437" height="87" fill="#343434" opacity="0.35"/></g>
<g filter="url(#blur3)"><path d="M150 450V552" stroke="#a8a8a8" stroke-width="8" fill="none"/><path d="M365 450V552" stroke="#a8a8a8" stroke-width="8" fill="none"/><path d="M85.0 438.0C78.7 443.6 70.1 448.9 60.0 460.0C49.9 471.1 48.8 476.4 45.0 482.0" fill="none" stroke="#b4b4b4" stroke-width="10" stroke-linecap="round"/><path d="M190.0 445.0C188.7 451.3 187.5 458.1 185.0 470.0C182.5 481.9 181.3 486.4 180.0 492.0" fill="none" stroke="#b4b4b4" stroke-width="10" stroke-linecap="round"/><path d="M300.0 438.0C294.9 444.8 288.9 451.3 280.0 465.0C271.1 478.7 268.8 485.2 265.0 492.0" fill="none" stroke="#b4b4b4" stroke-width="10" stroke-linecap="round"/><path d="M420.0 430.0C425.1 431.3 430.6 432.0 440.0 435.0C449.4 438.0 452.7 440.2 457.0 442.0" fill="none" stroke="#b4b4b4" stroke-width="10" stroke-linecap="round"/></g>
<g filter="url(#blur5)"><path d="M150.0 48.0C163.9 49.3 166.1 63.0 180.0 80.0C193.9 97.0 191.1 97.3 205.0 115.0C218.9 132.7 230.7 129.7 235.0 150.0C239.3 170.3 224.5 169.7 222.0 195.0C219.5 220.3 221.7 220.9 225.0 250.0C228.3 279.1 232.5 279.6 235.0 310.0C237.5 340.4 240.1 342.1 235.0 370.0C229.9 397.9 230.2 399.7 215.0 420.0C199.8 440.3 196.5 441.9 175.0 450.0C153.5 458.1 152.8 455.8 130.0 452.0C107.2 448.2 104.0 449.4 85.0 435.0C66.0 420.6 64.4 419.1 55.0 395.0C45.6 370.9 48.0 369.1 48.0 340.0C48.0 310.9 49.4 310.4 55.0 280.0C60.6 249.6 64.9 247.9 70.0 220.0C75.1 192.1 75.5 192.8 75.0 170.0C74.5 147.2 62.9 146.5 68.0 130.0C73.1 113.5 80.6 118.9 95.0 105.0C109.4 91.1 111.1 89.4 125.0 75.0C138.9 60.6 136.1 46.7 150.0 48.0Z" fill="#a2a2a2" stroke="#a2a2a2" stroke-width="6" stroke-linejoin="round"/><path d="M149.4 58.1C162.0 59.3 163.9 72.4 176.4 88.5C189.0 104.6 186.4 104.9 198.9 121.7C211.5 138.6 222.0 135.7 225.9 155.0C229.8 174.2 216.5 173.7 214.2 197.7C211.9 221.8 214.0 222.3 216.9 250.0C219.9 277.7 223.6 278.1 225.9 307.0C228.2 335.9 230.5 337.5 225.9 364.0C221.4 390.4 221.6 392.2 207.9 411.5C194.2 430.7 191.3 432.3 171.9 440.0C152.5 447.7 151.9 445.5 131.4 441.9C110.9 438.3 108.0 439.4 90.9 425.7C73.8 412.0 72.4 410.6 63.9 387.7C55.5 364.9 57.6 363.2 57.6 335.5C57.6 307.8 58.9 307.4 63.9 278.5C68.9 249.6 72.9 247.9 77.4 221.5C82.0 195.0 82.4 195.6 81.9 174.0C81.5 152.3 71.1 151.6 75.6 136.0C80.2 120.3 86.9 125.5 99.9 112.2C112.9 99.0 114.4 97.4 126.9 83.7C139.5 70.0 136.9 56.9 149.4 58.1Z" fill="#c4c4c4"/><path d="M148.5 76.2C158.8 77.3 160.4 89.1 170.7 103.7C181.0 118.3 178.9 118.6 189.2 133.8C199.5 149.1 208.2 146.5 211.4 163.9C214.6 181.4 203.6 180.8 201.8 202.6C199.9 224.4 201.5 224.9 204.0 249.9C206.4 275.0 209.5 275.4 211.4 301.5C213.3 327.7 215.1 329.2 211.4 353.1C207.6 377.1 207.8 378.7 196.6 396.1C185.3 413.6 182.9 415.0 167.0 421.9C151.0 428.9 150.6 426.9 133.7 423.6C116.8 420.4 114.4 421.4 100.4 409.0C86.3 396.6 85.1 395.3 78.2 374.6C71.2 353.9 73.0 352.4 73.0 327.3C73.0 302.3 74.1 301.9 78.2 275.7C82.3 249.6 85.5 248.1 89.3 224.1C93.0 200.2 93.4 200.7 93.0 181.1C92.6 161.5 84.0 160.9 87.8 146.7C91.5 132.6 97.1 137.2 107.8 125.2C118.5 113.2 119.7 111.8 130.0 99.4C140.3 87.0 138.2 75.1 148.5 76.2Z" fill="url(#mgA)"/><path d="M372.0 48.0C384.7 50.5 386.6 61.8 400.0 80.0C413.4 98.2 413.6 102.3 425.0 120.0C436.4 137.7 442.5 129.7 445.0 150.0C447.5 170.3 436.3 172.1 435.0 200.0C433.7 227.9 434.9 229.6 440.0 260.0C445.1 290.4 452.5 289.6 455.0 320.0C457.5 350.4 457.6 353.4 450.0 380.0C442.4 406.6 441.5 406.8 425.0 425.0C408.5 443.2 406.5 445.7 385.0 452.0C363.5 458.3 362.8 455.6 340.0 450.0C317.2 444.4 313.2 445.2 295.0 430.0C276.8 414.8 276.4 415.3 268.0 390.0C259.6 364.7 260.2 360.4 262.0 330.0C263.8 299.6 267.9 300.4 275.0 270.0C282.1 239.6 285.7 237.9 290.0 210.0C294.3 182.1 289.5 181.5 292.0 160.0C294.5 138.5 290.4 141.5 300.0 125.0C309.6 108.5 317.3 108.9 330.0 95.0C342.7 81.1 339.4 81.9 350.0 70.0C360.6 58.1 359.3 45.5 372.0 48.0Z" fill="#a2a2a2" stroke="#a2a2a2" stroke-width="6" stroke-linejoin="round"/><path d="M371.0 58.0C382.4 60.4 384.1 71.1 396.2 88.4C408.3 105.7 408.4 109.6 418.7 126.4C428.9 143.3 434.4 135.7 436.7 154.9C438.9 174.2 428.8 175.9 427.7 202.4C426.5 228.9 427.6 230.5 432.2 259.4C436.7 288.3 443.4 287.5 445.7 316.4C447.9 345.3 448.0 348.1 441.2 373.4C434.3 398.7 433.5 398.8 418.7 416.2C403.9 433.5 402.1 435.8 382.7 441.8C363.3 447.8 362.7 445.2 342.2 439.9C321.7 434.6 318.1 435.4 301.7 420.9C285.3 406.5 284.9 407.0 277.4 382.9C269.8 358.8 270.4 354.8 272.0 325.9C273.6 297.0 277.3 297.8 283.7 268.9C290.1 240.0 293.3 238.4 297.2 211.9C301.0 185.4 296.7 184.9 299.0 164.4C301.2 144.0 297.5 146.8 306.2 131.2C314.8 115.5 321.8 115.9 333.2 102.7C344.6 89.4 341.6 90.2 351.2 78.9C360.7 67.6 359.6 55.6 371.0 58.0Z" fill="#c4c4c4"/><path d="M369.3 76.0C378.7 78.2 380.1 87.9 390.0 103.6C400.0 119.2 400.1 122.7 408.5 138.0C417.0 153.2 421.5 146.3 423.3 163.8C425.2 181.2 416.9 182.8 415.9 206.8C415.0 230.7 415.9 232.2 419.6 258.4C423.4 284.5 428.9 283.8 430.7 310.0C432.6 336.1 432.7 338.7 427.0 361.6C421.4 384.4 420.7 384.6 408.5 400.3C396.4 415.9 394.9 418.0 378.9 423.5C363.0 428.9 362.5 426.5 345.6 421.8C328.8 417.0 325.8 417.6 312.3 404.6C298.8 391.5 298.5 391.9 292.4 370.2C286.2 348.4 286.6 344.7 287.9 318.6C289.2 292.4 292.3 293.1 297.5 267.0C302.8 240.8 305.5 239.3 308.6 215.4C311.8 191.4 308.2 190.9 310.1 172.4C312.0 153.8 308.9 156.4 316.0 142.3C323.2 128.1 328.9 128.4 338.2 116.5C347.6 104.5 345.2 105.2 353.0 95.0C360.9 84.7 359.9 73.9 369.3 76.0Z" fill="url(#mgA)"/></g>
<g filter="url(#blur3)"><path d="M120.0 350.0C127.6 341.1 133.6 341.3 145.0 340.0C156.4 338.7 156.1 339.9 165.0 345.0C173.9 350.1 177.5 348.6 180.0 360.0C182.5 371.4 180.1 377.3 175.0 390.0C169.9 402.7 168.9 402.4 160.0 410.0C151.1 417.6 149.6 422.5 140.0 420.0C130.4 417.5 128.3 411.4 122.0 400.0C115.7 388.6 115.5 387.7 115.0 375.0C114.5 362.3 112.4 358.9 120.0 350.0Z" fill="#4a14ee"/><ellipse cx="222" cy="348" rx="9" ry="9" fill="#4a14ee"/><ellipse cx="100" cy="245" rx="5" ry="5" fill="#4a14ee"/><ellipse cx="158" cy="262" rx="4" ry="4" fill="#4a14ee"/><ellipse cx="372" cy="80" rx="12" ry="9" fill="#4a14ee"/><ellipse cx="395" cy="103" rx="5" ry="5" fill="#4a14ee"/><path d="M345.0 235.0C355.1 220.3 368.1 223.1 380.0 232.0C391.9 240.9 388.2 245.2 392.0 270.0C395.8 294.8 393.5 299.6 395.0 330.0C396.5 360.4 400.5 362.1 398.0 390.0C395.5 417.9 394.6 424.3 385.0 440.0C375.4 455.7 372.7 454.5 360.0 452.0C347.3 449.5 344.6 445.7 335.0 430.0C325.4 414.3 323.8 412.8 322.0 390.0C320.2 367.2 323.4 365.3 328.0 340.0C332.6 314.7 335.7 316.6 340.0 290.0C344.3 263.4 334.9 249.7 345.0 235.0Z" fill="#4a14ee"/><ellipse cx="295" cy="295" rx="15" ry="15" fill="#4a14ee"/></g>

</g></g>
<text x="7.2" y="16.8" font-size="12.3" text-anchor="start" font-weight="bold" fill="#000" stroke="#000" stroke-width="0.3">A</text>
<text x="131.5" y="23.3" font-size="9.8" text-anchor="middle" font-weight="normal" fill="#111" textLength="92" lengthAdjust="spacingAndGlyphs">BC2059 and ARV-771</text>
<rect x="103" y="34.9" width="66.19999999999999" height="7" fill="#5a2a7c"/>
<rect x="128.3" y="34.9" width="1.4" height="7" fill="#111"/>
<line x1="74.7" y1="38.4" x2="77.5" y2="38.4" stroke="#111" stroke-width="0.8"/>
<text x="51.99999999999999" y="41.35" font-size="8.2" text-anchor="start" font-weight="normal" fill="#111" textLength="19.6" lengthAdjust="spacingAndGlyphs">SET-2</text>
<rect x="97" y="47.5" width="51" height="7" fill="#6cb43e"/>
<rect x="125.3" y="47.5" width="1.4" height="7" fill="#111"/>
<line x1="74.7" y1="51.0" x2="77.5" y2="51.0" stroke="#111" stroke-width="0.8"/>
<text x="18.199999999999996" y="53.95" font-size="8.2" text-anchor="start" font-weight="normal" fill="#111" textLength="53.4" lengthAdjust="spacingAndGlyphs">SET-2-OTX P/R</text>
<rect x="103" y="60.25" width="70" height="7" fill="#b4002c"/>
<rect x="130.5" y="60.25" width="1.4" height="7" fill="#111"/>
<line x1="74.7" y1="63.75" x2="77.5" y2="63.75" stroke="#111" stroke-width="0.8"/>
<text x="35.199999999999996" y="66.7" font-size="8.2" text-anchor="start" font-weight="normal" fill="#111" textLength="36.4" lengthAdjust="spacingAndGlyphs">HEL92.1.7</text>
<rect x="85" y="73.0" width="35.8" height="7" fill="#2c5596"/>
<rect x="95.0" y="73.0" width="1.4" height="7" fill="#111"/>
<line x1="74.7" y1="76.5" x2="77.5" y2="76.5" stroke="#111" stroke-width="0.8"/>
<text x="23.39999999999999" y="79.45" font-size="8.2" text-anchor="start" font-weight="normal" fill="#111" textLength="48.2" lengthAdjust="spacingAndGlyphs">HEL-OTX P/R</text>
<rect x="110.2" y="85.9" width="58.60000000000001" height="7" fill="#e0901c"/>
<rect x="129.8" y="85.9" width="1.4" height="7" fill="#111"/>
<line x1="74.7" y1="89.4" x2="77.5" y2="89.4" stroke="#111" stroke-width="0.8"/>
<text x="52.699999999999996" y="92.35000000000001" font-size="8.2" text-anchor="start" font-weight="normal" fill="#111" textLength="18.9" lengthAdjust="spacingAndGlyphs">THP1</text>
<rect x="97" y="98.7" width="40" height="7" fill="#386c54"/>
<rect x="116.3" y="98.7" width="1.4" height="7" fill="#111"/>
<line x1="74.7" y1="102.2" x2="77.5" y2="102.2" stroke="#111" stroke-width="0.8"/>
<text x="18.199999999999996" y="105.15" font-size="8.2" text-anchor="start" font-weight="normal" fill="#111" textLength="53.4" lengthAdjust="spacingAndGlyphs">THP1-OTX P/R</text>
<path d="M77.5 28.7V110H185.6" fill="none" stroke="#111" stroke-width="1"/>
<line x1="77.5" y1="110" x2="77.5" y2="112.6" stroke="#111" stroke-width="0.8"/>
<text x="71.4" y="123.1" font-size="8.5" text-anchor="start" font-weight="normal" fill="#111" textLength="12.2" lengthAdjust="spacingAndGlyphs">0.0</text>
<line x1="104.0" y1="110" x2="104.0" y2="112.6" stroke="#111" stroke-width="0.8"/>
<text x="97.9" y="123.1" font-size="8.5" text-anchor="start" font-weight="normal" fill="#111" textLength="12.2" lengthAdjust="spacingAndGlyphs">0.2</text>
<line x1="130.5" y1="110" x2="130.5" y2="112.6" stroke="#111" stroke-width="0.8"/>
<text x="124.4" y="123.1" font-size="8.5" text-anchor="start" font-weight="normal" fill="#111" textLength="12.2" lengthAdjust="spacingAndGlyphs">0.4</text>
<line x1="157.0" y1="110" x2="157.0" y2="112.6" stroke="#111" stroke-width="0.8"/>
<text x="150.9" y="123.1" font-size="8.5" text-anchor="start" font-weight="normal" fill="#111" textLength="12.2" lengthAdjust="spacingAndGlyphs">0.6</text>
<line x1="183.5" y1="110" x2="183.5" y2="112.6" stroke="#111" stroke-width="0.8"/>
<text x="177.4" y="123.1" font-size="8.5" text-anchor="start" font-weight="normal" fill="#111" textLength="12.2" lengthAdjust="spacingAndGlyphs">0.8</text>
<text x="132" y="136.4" font-size="9.6" text-anchor="middle" font-weight="normal" fill="#222" textLength="86.5" lengthAdjust="spacingAndGlyphs">Combination index values</text>
<text x="6.9" y="163.6" font-size="12.3" text-anchor="start" font-weight="bold" fill="#000" stroke="#000" stroke-width="0.3">C</text>
<text x="77.9" y="172.0" font-size="9.8" text-anchor="start" font-weight="normal" fill="#111" textLength="145" lengthAdjust="spacingAndGlyphs">HEL-OTX P/R GFP-Luc xenografts</text>
<path d="M149.05 186.9H166.19799999999998V195.45H171.914V212.55H174.772V229.65H177.63V246.75H186.204V255.29999999999998H189.062V272.4" fill="none" stroke="#4a6ea8" stroke-width="1.15"/>
<rect x="164.04799999999997" y="193.29999999999998" width="4.3" height="4.3" fill="#24488c"/>
<rect x="169.76399999999998" y="210.4" width="4.3" height="4.3" fill="#24488c"/>
<rect x="172.62199999999999" y="227.5" width="4.3" height="4.3" fill="#24488c"/>
<rect x="175.48" y="244.6" width="4.3" height="4.3" fill="#24488c"/>
<rect x="184.054" y="253.14999999999998" width="4.3" height="4.3" fill="#24488c"/>
<rect x="186.912" y="270.25" width="4.3" height="4.3" fill="#24488c"/>
<path d="M126.18599999999999 186.9H149.55V202.461H152.40800000000002V218.022H158.124V233.4975H166.69799999999998V241.278H172.414V256.839H175.272V272.4" fill="none" stroke="#c81e3c" stroke-width="1.15"/>
<circle cx="149.55" cy="202.461" r="2.3" fill="#b4002c"/>
<circle cx="152.40800000000002" cy="218.022" r="2.3" fill="#b4002c"/>
<circle cx="158.124" cy="233.4975" r="2.3" fill="#b4002c"/>
<circle cx="166.69799999999998" cy="241.278" r="2.3" fill="#b4002c"/>
<circle cx="172.414" cy="256.839" r="2.3" fill="#b4002c"/>
<circle cx="175.272" cy="272.4" r="2.3" fill="#b4002c"/>
<path d="M106.17999999999999 186.9H125.98599999999999V195.45H148.85000000000002V212.55H155.13760000000002V221.1H157.424V229.65H165.998V246.75H171.714V263.84999999999997H174.572V272.4" fill="none" stroke="#7cc142" stroke-width="1.15"/>
<path d="M125.98599999999999 192.75L128.551 197.475H123.42099999999999Z" fill="#5cae2e"/>
<path d="M148.85000000000002 209.85000000000002L151.41500000000002 214.57500000000002H146.28500000000003Z" fill="#5cae2e"/>
<path d="M155.13760000000002 218.4L157.70260000000002 223.125H152.57260000000002Z" fill="#5cae2e"/>
<path d="M157.424 226.95000000000002L159.989 231.675H154.859Z" fill="#5cae2e"/>
<path d="M165.998 244.05L168.563 248.775H163.433Z" fill="#5cae2e"/>
<path d="M171.714 261.15L174.279 265.87499999999994H169.149Z" fill="#5cae2e"/>
<path d="M174.572 269.7L177.137 274.42499999999995H172.007Z" fill="#5cae2e"/>
<path d="M77.6 186.9H106.17999999999999V195.45H109.038V204.0H114.75399999999999V212.55H117.612V221.1H129.04399999999998V229.65H137.618V238.2H140.476V255.29999999999998H146.192V263.84999999999997H149.05V272.4" fill="none" stroke="#84599f" stroke-width="1.15"/>
<circle cx="106.17999999999999" cy="195.45" r="2.3" fill="#42175f"/>
<circle cx="109.038" cy="204.0" r="2.3" fill="#42175f"/>
<circle cx="114.75399999999999" cy="212.55" r="2.3" fill="#42175f"/>
<circle cx="117.612" cy="221.1" r="2.3" fill="#42175f"/>
<circle cx="129.04399999999998" cy="229.65" r="2.3" fill="#42175f"/>
<circle cx="137.618" cy="238.2" r="2.3" fill="#42175f"/>
<circle cx="140.476" cy="255.29999999999998" r="2.3" fill="#42175f"/>
<circle cx="146.192" cy="263.84999999999997" r="2.3" fill="#42175f"/>
<circle cx="149.05" cy="272.4" r="2.3" fill="#42175f"/>
<path d="M77.6 178V272.7H220.9" fill="none" stroke="#111" stroke-width="1"/>
<line x1="74.19999999999999" y1="186.90000000000003" x2="77.6" y2="186.90000000000003" stroke="#111" stroke-width="0.8"/>
<text x="72.5" y="189.90000000000003" font-size="8.5" text-anchor="end" font-weight="normal" fill="#111">100</text>
<line x1="74.19999999999999" y1="229.65" x2="77.6" y2="229.65" stroke="#111" stroke-width="0.8"/>
<text x="72.5" y="232.65" font-size="8.5" text-anchor="end" font-weight="normal" fill="#111">50</text>
<line x1="74.19999999999999" y1="272.4" x2="77.6" y2="272.4" stroke="#111" stroke-width="0.8"/>
<text x="72.5" y="275.4" font-size="8.5" text-anchor="end" font-weight="normal" fill="#111">0</text>
<line x1="77.6" y1="272.4" x2="77.6" y2="275.4" stroke="#111" stroke-width="0.8"/>
<text x="77.6" y="284.2" font-size="8.5" text-anchor="middle" font-weight="normal" fill="#111">0</text>
<line x1="106.17999999999999" y1="272.4" x2="106.17999999999999" y2="275.4" stroke="#111" stroke-width="0.8"/>
<text x="106.17999999999999" y="284.2" font-size="8.5" text-anchor="middle" font-weight="normal" fill="#111">10</text>
<line x1="134.76" y1="272.4" x2="134.76" y2="275.4" stroke="#111" stroke-width="0.8"/>
<text x="134.76" y="284.2" font-size="8.5" text-anchor="middle" font-weight="normal" fill="#111">20</text>
<line x1="163.34" y1="272.4" x2="163.34" y2="275.4" stroke="#111" stroke-width="0.8"/>
<text x="163.34" y="284.2" font-size="8.5" text-anchor="middle" font-weight="normal" fill="#111">30</text>
<line x1="191.92000000000002" y1="272.4" x2="191.92000000000002" y2="275.4" stroke="#111" stroke-width="0.8"/>
<text x="191.92000000000002" y="284.2" font-size="8.5" text-anchor="middle" font-weight="normal" fill="#111">40</text>
<line x1="220.5" y1="272.4" x2="220.5" y2="275.4" stroke="#111" stroke-width="0.8"/>
<text x="220.5" y="284.2" font-size="8.5" text-anchor="middle" font-weight="normal" fill="#111">50</text>
<text x="52.2" y="225" font-size="9" text-anchor="middle" font-weight="normal" fill="#222" textLength="53" lengthAdjust="spacingAndGlyphs" transform="rotate(-90 52.2 225)">Percent survival</text>
<text x="150.3" y="298.4" font-size="9.4" text-anchor="middle" font-weight="normal" fill="#222" textLength="75.5" lengthAdjust="spacingAndGlyphs">Days post engraftment</text>
<line x1="190.4" y1="187.5" x2="200.6" y2="187.5" stroke="#84599f" stroke-width="1"/>
<circle cx="195.5" cy="187.5" r="2.3" fill="#42175f"/>
<text x="203.7" y="190.2" font-size="7.8" text-anchor="start" font-weight="normal" fill="#111" textLength="23.4" lengthAdjust="spacingAndGlyphs">vehicle</text>
<line x1="190.4" y1="198.5" x2="200.6" y2="198.5" stroke="#7cc142" stroke-width="1"/>
<path d="M195.5 195.8L198.065 200.525H192.935Z" fill="#5cae2e"/>
<text x="203.7" y="201.2" font-size="7.8" text-anchor="start" font-weight="normal" fill="#111" textLength="61.4" lengthAdjust="spacingAndGlyphs">30 mg/kg BC2059</text>
<line x1="190.4" y1="209.6" x2="200.6" y2="209.6" stroke="#c81e3c" stroke-width="1"/>
<circle cx="195.5" cy="209.6" r="2.3" fill="#b4002c"/>
<text x="203.7" y="212.29999999999998" font-size="7.8" text-anchor="start" font-weight="normal" fill="#111" textLength="63" lengthAdjust="spacingAndGlyphs">30 mg/kg ARV-771</text>
<line x1="190.4" y1="220.6" x2="200.6" y2="220.6" stroke="#4a6ea8" stroke-width="1"/>
<rect x="193.35" y="218.45" width="4.3" height="4.3" fill="#24488c"/>
<text x="203.7" y="223.29999999999998" font-size="7.8" text-anchor="start" font-weight="normal" fill="#111" textLength="64.8" lengthAdjust="spacingAndGlyphs">ARV-771 + BC2059</text>
<text x="203.7" y="233.9" font-size="7.3" text-anchor="start" font-weight="normal" fill="#111" textLength="90.6" lengthAdjust="spacingAndGlyphs">Veh vs BC2059 (p= 0.0001)</text>
<text x="203.7" y="242.9" font-size="7.3" text-anchor="start" font-weight="normal" fill="#111" textLength="92.3" lengthAdjust="spacingAndGlyphs">Veh vs ARV-771 (p&lt; 0.0001)</text>
<text x="203.7" y="251.79999999999998" font-size="7.3" text-anchor="start" font-weight="normal" fill="#111" textLength="143.3" lengthAdjust="spacingAndGlyphs">BC2059 vs BC2059 + ARV-771 (p= 0.0007)</text>
<text x="203.7" y="260.70000000000005" font-size="7.3" text-anchor="start" font-weight="normal" fill="#111" textLength="144.7" lengthAdjust="spacingAndGlyphs">ARV-771 vs BC2059 + ARV-771 (p= 0.0015)</text>
<text x="6.8" y="325.5" font-size="12.3" text-anchor="start" font-weight="bold" fill="#000" stroke="#000" stroke-width="0.3">D</text>
<text x="171" y="333.7" font-size="8.0" text-anchor="middle" font-weight="normal" fill="#111" textLength="57" lengthAdjust="spacingAndGlyphs">AML PDX blasts</text>
<line x1="125" y1="339.1" x2="217" y2="339.1" stroke="#111" stroke-width="1.1"/>
<text x="65" y="366.3" font-size="8.0" text-anchor="start" font-weight="normal" fill="#111" textLength="28.4" lengthAdjust="spacingAndGlyphs" transform="rotate(-45 65 366.3)">TCF7L2</text>
<text x="98.3" y="366.3" font-size="8.0" text-anchor="start" font-weight="normal" fill="#111" textLength="20.8" lengthAdjust="spacingAndGlyphs" transform="rotate(-45 98.3 366.3)">c-Myc</text>
<text x="124.5" y="366.3" font-size="8.0" text-anchor="start" font-weight="normal" fill="#111" textLength="26" lengthAdjust="spacingAndGlyphs" transform="rotate(-45 124.5 366.3)">JMJD6</text>
<text x="156.5" y="366.3" font-size="8.0" text-anchor="start" font-weight="normal" fill="#111" textLength="21" lengthAdjust="spacingAndGlyphs" transform="rotate(-45 156.5 366.3)">c-Myb</text>
<text x="186" y="366.3" font-size="8.0" text-anchor="start" font-weight="normal" fill="#111" textLength="17.6" lengthAdjust="spacingAndGlyphs" transform="rotate(-45 186 366.3)">PU.1</text>
<text x="212.8" y="366.3" font-size="8.0" text-anchor="start" font-weight="normal" fill="#111" textLength="22.2" lengthAdjust="spacingAndGlyphs" transform="rotate(-45 212.8 366.3)">Bcl-xL</text>
<text x="244" y="366.3" font-size="8.0" text-anchor="start" font-weight="normal" fill="#111" textLength="27.9" lengthAdjust="spacingAndGlyphs" transform="rotate(-45 244 366.3)">GAPDH</text>
<text x="6.8" y="417.1" font-size="12.3" text-anchor="start" font-weight="bold" fill="#000" stroke="#000" stroke-width="0.3">F</text>
<text x="103.8" y="426.0" font-size="9.8" text-anchor="start" font-weight="normal" fill="#111" textLength="129" lengthAdjust="spacingAndGlyphs">AML PDX GFP-Luc xenografts</text>
<path d="M77.6 460.9H102.3" fill="none" stroke="#6f8abc" stroke-width="1.5"/>
<path d="M108.2 460.9H154.7V474.9H158.8V489.2H171.5V495.5H175.7V503H192.3V509.5H196.9V516.9H205.5V524.3H217.7V537.7H247.2V544.6" fill="none" stroke="#4a6ea8" stroke-width="1.15"/>
<rect x="152.54999999999998" y="472.75" width="4.3" height="4.3" fill="#24488c"/>
<rect x="156.65" y="487.05" width="4.3" height="4.3" fill="#24488c"/>
<rect x="169.35" y="493.35" width="4.3" height="4.3" fill="#24488c"/>
<rect x="173.54999999999998" y="500.85" width="4.3" height="4.3" fill="#24488c"/>
<rect x="190.15" y="507.35" width="4.3" height="4.3" fill="#24488c"/>
<rect x="194.75" y="514.75" width="4.3" height="4.3" fill="#24488c"/>
<rect x="203.35" y="522.15" width="4.3" height="4.3" fill="#24488c"/>
<rect x="215.54999999999998" y="535.5500000000001" width="4.3" height="4.3" fill="#24488c"/>
<rect x="245.04999999999998" y="542.45" width="4.3" height="4.3" fill="#24488c"/>
<path d="M158.9 529.7V538.4H163.3V546.3" fill="none" stroke="#c81e3c" stroke-width="1"/>
<path d="M133.5 462.8H137.2V471.2H154.7V479.8H158.9V529.7" fill="none" stroke="#c81e3c" stroke-width="1.15"/>
<circle cx="137.2" cy="471.2" r="2.3" fill="#b4002c"/>
<circle cx="154.7" cy="479.8" r="2.3" fill="#b4002c"/>
<circle cx="158.9" cy="529.7" r="2.3" fill="#b4002c"/>
<path d="M77.6 462.8H102.3" fill="none" stroke="#7cc142" stroke-width="1.4"/>
<path d="M108.2 462.8H133.5V471.2H137.3V479.8H154.6V505.2H158.6V521.7H163.3V530.2H166.8V546.3" fill="none" stroke="#7cc142" stroke-width="1.15"/>
<path d="M133.5 468.5L136.065 473.22499999999997H130.935Z" fill="#5cae2e"/>
<path d="M137.3 477.1L139.865 481.825H134.735Z" fill="#5cae2e"/>
<path d="M154.6 502.5L157.165 507.22499999999997H152.035Z" fill="#5cae2e"/>
<path d="M158.6 519.0L161.165 523.725H156.035Z" fill="#5cae2e"/>
<path d="M163.3 527.5L165.865 532.225H160.735Z" fill="#5cae2e"/>
<path d="M166.8 543.5999999999999L169.365 548.3249999999999H164.235Z" fill="#5cae2e"/>
<path d="M77.6 462.9H100.8V479.8" fill="none" stroke="#84599f" stroke-width="1.4"/>
<circle cx="100.8" cy="471.2" r="2.3" fill="#42175f"/>
<circle cx="101.0" cy="479.8" r="2.3" fill="#42175f"/>
<path d="M108.2 479.8H116.7V488H129V496.5H133.5V504.8H137.3V521.7H154.6V538.5H163.3V546.3" fill="none" stroke="#84599f" stroke-width="1.15"/>
<circle cx="116.7" cy="488" r="2.3" fill="#42175f"/>
<circle cx="129" cy="496.5" r="2.3" fill="#42175f"/>
<circle cx="133.5" cy="504.8" r="2.3" fill="#42175f"/>
<circle cx="137.3" cy="521.7" r="2.3" fill="#42175f"/>
<circle cx="154.6" cy="538.5" r="2.3" fill="#42175f"/>
<circle cx="163.3" cy="546.3" r="2.3" fill="#42175f"/>
<path d="M77.6 453.8V546.8H102.3M108.2 546.8H257.4" fill="none" stroke="#111" stroke-width="1"/>
<path d="M102.3 544.3V549.5M108.2 544.3V549.5" fill="none" stroke="#111" stroke-width="0.9"/>
<line x1="74.19999999999999" y1="462.5" x2="77.6" y2="462.5" stroke="#111" stroke-width="0.8"/>
<text x="72.5" y="465.5" font-size="8.5" text-anchor="end" font-weight="normal" fill="#111">100</text>
<line x1="74.19999999999999" y1="504.5" x2="77.6" y2="504.5" stroke="#111" stroke-width="0.8"/>
<text x="72.5" y="507.5" font-size="8.5" text-anchor="end" font-weight="normal" fill="#111">50</text>
<line x1="74.19999999999999" y1="546.5" x2="77.6" y2="546.5" stroke="#111" stroke-width="0.8"/>
<text x="72.5" y="549.5" font-size="8.5" text-anchor="end" font-weight="normal" fill="#111">0</text>
<line x1="77.6" y1="546.5" x2="77.6" y2="549.5" stroke="#111" stroke-width="0.8"/>
<text x="77.6" y="560.2" font-size="8.5" text-anchor="middle" font-weight="normal" fill="#111">0</text>
<text x="101.8" y="560.2" font-size="8.5" text-anchor="middle" font-weight="normal" fill="#111">25</text>
<line x1="128.6" y1="546.5" x2="128.6" y2="549.5" stroke="#111" stroke-width="0.8"/>
<text x="128.6" y="560.2" font-size="8.5" text-anchor="middle" font-weight="normal" fill="#111">40</text>
<line x1="170.9" y1="546.5" x2="170.9" y2="549.5" stroke="#111" stroke-width="0.8"/>
<text x="170.9" y="560.2" font-size="8.5" text-anchor="middle" font-weight="normal" fill="#111">50</text>
<line x1="213.2" y1="546.5" x2="213.2" y2="549.5" stroke="#111" stroke-width="0.8"/>
<text x="213.2" y="560.2" font-size="8.5" text-anchor="middle" font-weight="normal" fill="#111">60</text>
<line x1="255.5" y1="546.5" x2="255.5" y2="549.5" stroke="#111" stroke-width="0.8"/>
<text x="255.5" y="560.2" font-size="8.5" text-anchor="middle" font-weight="normal" fill="#111">70</text>
<text x="52.2" y="500.3" font-size="9" text-anchor="middle" font-weight="normal" fill="#222" textLength="53" lengthAdjust="spacingAndGlyphs" transform="rotate(-90 52.2 500.3)">Percent survival</text>
<text x="167.8" y="572.6" font-size="9.4" text-anchor="middle" font-weight="normal" fill="#222" textLength="74.5" lengthAdjust="spacingAndGlyphs">Days post engraftment</text>
<line x1="84.1" y1="435.3" x2="94.5" y2="435.3" stroke="#84599f" stroke-width="1"/>
<circle cx="89.3" cy="435.3" r="2.3" fill="#42175f"/>
<text x="98" y="438.0" font-size="7.8" text-anchor="start" font-weight="normal" fill="#111" textLength="23.2" lengthAdjust="spacingAndGlyphs">vehicle</text>
<line x1="84.1" y1="446.4" x2="94.5" y2="446.4" stroke="#7cc142" stroke-width="1"/>
<path d="M89.3 443.7L91.865 448.42499999999995H86.735Z" fill="#5cae2e"/>
<text x="98" y="449.09999999999997" font-size="7.8" text-anchor="start" font-weight="normal" fill="#111" textLength="61.3" lengthAdjust="spacingAndGlyphs">30 mg/kg BC2059</text>
<line x1="174.60000000000002" y1="435.3" x2="185.0" y2="435.3" stroke="#c81e3c" stroke-width="1"/>
<circle cx="179.8" cy="435.3" r="2.3" fill="#b4002c"/>
<text x="187.8" y="438.0" font-size="7.8" text-anchor="start" font-weight="normal" fill="#111" textLength="62.6" lengthAdjust="spacingAndGlyphs">30 mg/kg ARV-771</text>
<line x1="174.60000000000002" y1="446.4" x2="185.0" y2="446.4" stroke="#4a6ea8" stroke-width="1"/>
<rect x="177.65" y="444.25" width="4.3" height="4.3" fill="#24488c"/>
<text x="187.8" y="449.09999999999997" font-size="7.8" text-anchor="start" font-weight="normal" fill="#111" textLength="64.6" lengthAdjust="spacingAndGlyphs">ARV-771 + BC2059</text>
<text x="187.7" y="459.3" font-size="7.3" text-anchor="start" font-weight="normal" fill="#111" textLength="90.8" lengthAdjust="spacingAndGlyphs">Veh vs BC2059 (p= 0.0179)</text>
<text x="187.7" y="468.20000000000005" font-size="7.3" text-anchor="start" font-weight="normal" fill="#111" textLength="90.8" lengthAdjust="spacingAndGlyphs">Veh vs ARV-771 (p=0.0054)</text>
<text x="187.7" y="477.3" font-size="7.3" text-anchor="start" font-weight="normal" fill="#111" textLength="142.5" lengthAdjust="spacingAndGlyphs">BC2059 vs BC2059 + ARV-771 (p= 0.0016)</text>
<text x="187.7" y="486.20000000000005" font-size="7.3" text-anchor="start" font-weight="normal" fill="#111" textLength="144.6" lengthAdjust="spacingAndGlyphs">ARV-771 vs BC2059 + ARV-771 (p= 0.0050)</text>
<text x="309.5" y="16.8" font-size="12.3" text-anchor="start" font-weight="bold" fill="#000" stroke="#000" stroke-width="0.3">B</text>
<text x="346.6" y="25.4" font-size="10.1" text-anchor="start" font-weight="normal" fill="#111" textLength="144.8" lengthAdjust="spacingAndGlyphs">HEL-OTX P/R GFP-Luc xenografts</text>
<text x="345.8" y="57.8" font-size="8.2" text-anchor="middle" font-weight="normal" fill="#111" textLength="46.5" lengthAdjust="spacingAndGlyphs" transform="rotate(-90 345.8 57.8)">3 weeks post</text>
<text x="355.8" y="57.8" font-size="8.2" text-anchor="middle" font-weight="normal" fill="#111" textLength="44.5" lengthAdjust="spacingAndGlyphs" transform="rotate(-90 355.8 57.8)">engraftment</text>
<text x="383.5" y="98.8" font-size="8.2" text-anchor="middle" font-weight="normal" fill="#111" textLength="25.5" lengthAdjust="spacingAndGlyphs">Vehicle</text>
<text x="431.6" y="98.8" font-size="8.2" text-anchor="middle" font-weight="normal" fill="#111" textLength="34" lengthAdjust="spacingAndGlyphs">30 mg/kg</text>
<text x="431.6" y="108.2" font-size="8.2" text-anchor="middle" font-weight="normal" fill="#111" textLength="29" lengthAdjust="spacingAndGlyphs">BC2059</text>
<text x="383" y="190.4" font-size="8.2" text-anchor="middle" font-weight="normal" fill="#111" textLength="34" lengthAdjust="spacingAndGlyphs">30 mg/kg</text>
<text x="383" y="200.3" font-size="8.2" text-anchor="middle" font-weight="normal" fill="#111" textLength="30.5" lengthAdjust="spacingAndGlyphs">ARV-771</text>
<text x="431.3" y="190.4" font-size="8.2" text-anchor="middle" font-weight="normal" fill="#111" textLength="29" lengthAdjust="spacingAndGlyphs">BC2059</text>
<text x="431.9" y="200.3" font-size="8.2" text-anchor="middle" font-weight="normal" fill="#111" textLength="36.5" lengthAdjust="spacingAndGlyphs">+ ARV-771</text>
<rect x="471" y="31.9" width="4.100000000000023" height="85.9" fill="url(#jet)"/>
<line x1="475.1" y1="34.3" x2="476.8" y2="34.3" stroke="#444" stroke-width="0.6"/>
<text x="480.4" y="37.3" font-size="8.4" text-anchor="start" font-weight="normal" fill="#111" textLength="10.8" lengthAdjust="spacingAndGlyphs">1.2</text>
<line x1="475.1" y1="48.5" x2="476.8" y2="48.5" stroke="#444" stroke-width="0.6"/>
<text x="480.4" y="51.5" font-size="8.4" text-anchor="start" font-weight="normal" fill="#111" textLength="10.8" lengthAdjust="spacingAndGlyphs">1.0</text>
<line x1="475.1" y1="63.4" x2="476.8" y2="63.4" stroke="#444" stroke-width="0.6"/>
<text x="480.4" y="66.4" font-size="8.4" text-anchor="start" font-weight="normal" fill="#111" textLength="10.8" lengthAdjust="spacingAndGlyphs">0.8</text>
<line x1="475.1" y1="78" x2="476.8" y2="78" stroke="#444" stroke-width="0.6"/>
<text x="480.4" y="81.0" font-size="8.4" text-anchor="start" font-weight="normal" fill="#111" textLength="10.8" lengthAdjust="spacingAndGlyphs">0.6</text>
<line x1="475.1" y1="92.5" x2="476.8" y2="92.5" stroke="#444" stroke-width="0.6"/>
<text x="480.4" y="95.5" font-size="8.4" text-anchor="start" font-weight="normal" fill="#111" textLength="10.8" lengthAdjust="spacingAndGlyphs">0.4</text>
<line x1="475.1" y1="107" x2="476.8" y2="107" stroke="#444" stroke-width="0.6"/>
<text x="480.4" y="110.0" font-size="8.4" text-anchor="start" font-weight="normal" fill="#111" textLength="10.8" lengthAdjust="spacingAndGlyphs">0.2</text>
<line x1="475.1" y1="34.30" x2="476.0" y2="34.30" stroke="#666" stroke-width="0.45"/>
<line x1="475.1" y1="37.85" x2="476.0" y2="37.85" stroke="#666" stroke-width="0.45"/>
<line x1="475.1" y1="41.40" x2="476.0" y2="41.40" stroke="#666" stroke-width="0.45"/>
<line x1="475.1" y1="44.95" x2="476.0" y2="44.95" stroke="#666" stroke-width="0.45"/>
<line x1="475.1" y1="48.50" x2="476.0" y2="48.50" stroke="#666" stroke-width="0.45"/>
<line x1="475.1" y1="52.05" x2="476.0" y2="52.05" stroke="#666" stroke-width="0.45"/>
<line x1="475.1" y1="55.60" x2="476.0" y2="55.60" stroke="#666" stroke-width="0.45"/>
<line x1="475.1" y1="59.15" x2="476.0" y2="59.15" stroke="#666" stroke-width="0.45"/>
<line x1="475.1" y1="62.70" x2="476.0" y2="62.70" stroke="#666" stroke-width="0.45"/>
<line x1="475.1" y1="66.25" x2="476.0" y2="66.25" stroke="#666" stroke-width="0.45"/>
<line x1="475.1" y1="69.80" x2="476.0" y2="69.80" stroke="#666" stroke-width="0.45"/>
<line x1="475.1" y1="73.35" x2="476.0" y2="73.35" stroke="#666" stroke-width="0.45"/>
<line x1="475.1" y1="76.90" x2="476.0" y2="76.90" stroke="#666" stroke-width="0.45"/>
<line x1="475.1" y1="80.45" x2="476.0" y2="80.45" stroke="#666" stroke-width="0.45"/>
<line x1="475.1" y1="84.00" x2="476.0" y2="84.00" stroke="#666" stroke-width="0.45"/>
<line x1="475.1" y1="87.55" x2="476.0" y2="87.55" stroke="#666" stroke-width="0.45"/>
<line x1="475.1" y1="91.10" x2="476.0" y2="91.10" stroke="#666" stroke-width="0.45"/>
<line x1="475.1" y1="94.65" x2="476.0" y2="94.65" stroke="#666" stroke-width="0.45"/>
<line x1="475.1" y1="98.20" x2="476.0" y2="98.20" stroke="#666" stroke-width="0.45"/>
<line x1="475.1" y1="101.75" x2="476.0" y2="101.75" stroke="#666" stroke-width="0.45"/>
<line x1="475.1" y1="105.30" x2="476.0" y2="105.30" stroke="#666" stroke-width="0.45"/>
<line x1="475.1" y1="108.85" x2="476.0" y2="108.85" stroke="#666" stroke-width="0.45"/>
<line x1="475.1" y1="112.40" x2="476.0" y2="112.40" stroke="#666" stroke-width="0.45"/>
<line x1="475.1" y1="115.95" x2="476.0" y2="115.95" stroke="#666" stroke-width="0.45"/>
<text transform="translate(505.8 74) rotate(-90)" font-size="10.4" text-anchor="middle" fill="#3a3a3a" textLength="18.6" lengthAdjust="spacingAndGlyphs">x 10<tspan font-size="6.6" dy="-3.6">7</tspan></text>
<text x="470.8" y="127.7" font-size="8.3" text-anchor="start" font-weight="normal" fill="#111" textLength="32.2" lengthAdjust="spacingAndGlyphs">Radiance</text>
<text x="470.8" y="136.8" font-size="8.3" fill="#111" textLength="40.3" lengthAdjust="spacingAndGlyphs">(p/sec/cm<tspan font-size="5.2" dy="-3">2</tspan><tspan dy="3">)</tspan></text>
<text x="309.7" y="325.5" font-size="12.3" text-anchor="start" font-weight="bold" fill="#000" stroke="#000" stroke-width="0.3">E</text>
<text x="354.3" y="334.0" font-size="10.1" text-anchor="start" font-weight="normal" fill="#111" textLength="128.3" lengthAdjust="spacingAndGlyphs">AML PDX GFP-Luc xenografts</text>
<text x="345.8" y="367.6" font-size="8.2" text-anchor="middle" font-weight="normal" fill="#111" textLength="46.5" lengthAdjust="spacingAndGlyphs" transform="rotate(-90 345.8 367.6)">3 weeks post</text>
<text x="355.8" y="367.6" font-size="8.2" text-anchor="middle" font-weight="normal" fill="#111" textLength="44.5" lengthAdjust="spacingAndGlyphs" transform="rotate(-90 355.8 367.6)">engraftment</text>
<text x="384.5" y="405.9" font-size="8.2" text-anchor="middle" font-weight="normal" fill="#111" textLength="25.5" lengthAdjust="spacingAndGlyphs">Vehicle</text>
<text x="437.5" y="405.9" font-size="8.2" text-anchor="middle" font-weight="normal" fill="#111" textLength="34" lengthAdjust="spacingAndGlyphs">30 mg/kg</text>
<text x="437.5" y="415.0" font-size="8.2" text-anchor="middle" font-weight="normal" fill="#111" textLength="29" lengthAdjust="spacingAndGlyphs">BC2059</text>
<text x="384.6" y="490.3" font-size="8.2" text-anchor="middle" font-weight="normal" fill="#111" textLength="34" lengthAdjust="spacingAndGlyphs">30 mg/kg</text>
<text x="384.6" y="500.0" font-size="8.2" text-anchor="middle" font-weight="normal" fill="#111" textLength="30.5" lengthAdjust="spacingAndGlyphs">ARV-771</text>
<text x="437.2" y="490.3" font-size="8.2" text-anchor="middle" font-weight="normal" fill="#111" textLength="29" lengthAdjust="spacingAndGlyphs">BC2059</text>
<text x="437.8" y="500.0" font-size="8.2" text-anchor="middle" font-weight="normal" fill="#111" textLength="36.5" lengthAdjust="spacingAndGlyphs">+ ARV-771</text>
<rect x="472.7" y="339.2" width="2.8000000000000114" height="78.5" fill="url(#jet)"/>
<line x1="475.5" y1="353" x2="477.2" y2="353" stroke="#444" stroke-width="0.6"/>
<text x="479.0" y="356.0" font-size="8.4" text-anchor="start" font-weight="normal" fill="#111" textLength="10.8" lengthAdjust="spacingAndGlyphs">5.0</text>
<line x1="475.5" y1="367.8" x2="477.2" y2="367.8" stroke="#444" stroke-width="0.6"/>
<text x="479.0" y="370.8" font-size="8.4" text-anchor="start" font-weight="normal" fill="#111" textLength="10.8" lengthAdjust="spacingAndGlyphs">4.0</text>
<line x1="475.5" y1="382.6" x2="477.2" y2="382.6" stroke="#444" stroke-width="0.6"/>
<text x="479.0" y="385.6" font-size="8.4" text-anchor="start" font-weight="normal" fill="#111" textLength="10.8" lengthAdjust="spacingAndGlyphs">3.0</text>
<line x1="475.5" y1="397.3" x2="477.2" y2="397.3" stroke="#444" stroke-width="0.6"/>
<text x="479.0" y="400.3" font-size="8.4" text-anchor="start" font-weight="normal" fill="#111" textLength="10.8" lengthAdjust="spacingAndGlyphs">2.0</text>
<line x1="475.5" y1="412" x2="477.2" y2="412" stroke="#444" stroke-width="0.6"/>
<text x="479.0" y="415.0" font-size="8.4" text-anchor="start" font-weight="normal" fill="#111" textLength="10.8" lengthAdjust="spacingAndGlyphs">1.0</text>
<line x1="475.5" y1="349.30" x2="476.4" y2="349.30" stroke="#666" stroke-width="0.45"/>
<line x1="475.5" y1="353.00" x2="476.4" y2="353.00" stroke="#666" stroke-width="0.45"/>
<line x1="475.5" y1="356.70" x2="476.4" y2="356.70" stroke="#666" stroke-width="0.45"/>
<line x1="475.5" y1="360.40" x2="476.4" y2="360.40" stroke="#666" stroke-width="0.45"/>
<line x1="475.5" y1="364.10" x2="476.4" y2="364.10" stroke="#666" stroke-width="0.45"/>
<line x1="475.5" y1="367.80" x2="476.4" y2="367.80" stroke="#666" stroke-width="0.45"/>
<line x1="475.5" y1="371.50" x2="476.4" y2="371.50" stroke="#666" stroke-width="0.45"/>
<line x1="475.5" y1="375.20" x2="476.4" y2="375.20" stroke="#666" stroke-width="0.45"/>
<line x1="475.5" y1="378.90" x2="476.4" y2="378.90" stroke="#666" stroke-width="0.45"/>
<line x1="475.5" y1="382.60" x2="476.4" y2="382.60" stroke="#666" stroke-width="0.45"/>
<line x1="475.5" y1="386.30" x2="476.4" y2="386.30" stroke="#666" stroke-width="0.45"/>
<line x1="475.5" y1="390.00" x2="476.4" y2="390.00" stroke="#666" stroke-width="0.45"/>
<line x1="475.5" y1="393.70" x2="476.4" y2="393.70" stroke="#666" stroke-width="0.45"/>
<line x1="475.5" y1="397.40" x2="476.4" y2="397.40" stroke="#666" stroke-width="0.45"/>
<line x1="475.5" y1="401.10" x2="476.4" y2="401.10" stroke="#666" stroke-width="0.45"/>
<line x1="475.5" y1="404.80" x2="476.4" y2="404.80" stroke="#666" stroke-width="0.45"/>
<line x1="475.5" y1="408.50" x2="476.4" y2="408.50" stroke="#666" stroke-width="0.45"/>
<line x1="475.5" y1="412.20" x2="476.4" y2="412.20" stroke="#666" stroke-width="0.45"/>
<line x1="475.5" y1="415.90" x2="476.4" y2="415.90" stroke="#666" stroke-width="0.45"/>
<text transform="translate(504.8 378.5) rotate(-90)" font-size="10.4" text-anchor="middle" fill="#3a3a3a" textLength="18.6" lengthAdjust="spacingAndGlyphs">x 10<tspan font-size="6.6" dy="-3.6">5</tspan></text>
<text x="472.6" y="427.4" font-size="8.3" text-anchor="start" font-weight="normal" fill="#111" textLength="32.2" lengthAdjust="spacingAndGlyphs">Radiance</text>
<text x="472.6" y="436.6" font-size="8.3" fill="#111" textLength="40.3" lengthAdjust="spacingAndGlyphs">(p/sec/cm<tspan font-size="5.2" dy="-3">2</tspan><tspan dy="3">)</tspan></text>
<clipPath id="bc0"><rect x="54.6" y="369.6" width="26.4" height="22.19999999999999"/></clipPath>
<rect x="54.6" y="369.6" width="26.4" height="22.19999999999999" fill="#c2c2c2"/>
<g clip-path="url(#bc0)" filter="url(#bblur)">
<rect x="54.6" y="369.2" width="26.4" height="3.2" fill="#6a6a6a" opacity="0.75" rx="1.2"/>
<rect x="57.6" y="376.3" width="20.4" height="1.6" fill="#8a8a8a" opacity="0.55" rx="1.2"/>
<rect x="57.6" y="381.4" width="20.4" height="3.6" fill="#5e5e5e" opacity="0.85" rx="1.2"/>
<rect x="56.6" y="386.1" width="22.4" height="2" fill="#9a9a9a" opacity="0.5" rx="1.2"/>
<rect x="55.6" y="388.9" width="24.4" height="3" fill="#666" opacity="0.8" rx="1.2"/>
<rect x="53.6" y="369.6" width="3.5" height="22.19999999999999" fill="#666" opacity="0.6"/>
<rect x="78.8" y="369.6" width="3.2" height="22.19999999999999" fill="#777" opacity="0.55"/>
</g>
<rect x="55.0" y="370.0" width="25.6" height="21.4" fill="none" stroke="#383838" stroke-width="0.75"/>
<clipPath id="bc1"><rect x="83.2" y="369.6" width="26.599999999999994" height="22.19999999999999"/></clipPath>
<rect x="83.2" y="369.6" width="26.599999999999994" height="22.19999999999999" fill="#bebebe"/>
<g clip-path="url(#bc1)" filter="url(#bblur)">
<rect x="83.2" y="369.9" width="26.6" height="6.2" fill="#787878" opacity="0.75" rx="1.2"/>
<rect x="86.2" y="381.4" width="21.1" height="3.6" fill="#7c7c7c" opacity="0.8" rx="1.2"/>
<rect x="84.2" y="388.9" width="24.6" height="3" fill="#777" opacity="0.75" rx="1.2"/>
<rect x="82.2" y="369.6" width="3.5" height="22.19999999999999" fill="#707070" opacity="0.55"/>
<rect x="108.3" y="369.6" width="2.5" height="22.19999999999999" fill="#888" opacity="0.5"/>
</g>
<rect x="83.6" y="370.0" width="25.8" height="21.4" fill="none" stroke="#383838" stroke-width="0.75"/>
<clipPath id="bc2"><rect x="111.8" y="369.6" width="27.10000000000001" height="22.19999999999999"/></clipPath>
<rect x="111.8" y="369.6" width="27.10000000000001" height="22.19999999999999" fill="#cacaca"/>
<g clip-path="url(#bc2)" filter="url(#bblur)">
<rect x="111.8" y="369.4" width="27.1" height="2.5" fill="#8a8a8a" opacity="0.6" rx="1.2"/>
<rect x="113.8" y="377.7" width="22.1" height="7.8" fill="#6a6a6a" opacity="0.55" rx="1.2"/>
<rect x="116.2" y="379.2" width="17.7" height="4.8" fill="#050505" opacity="1" rx="1.2"/>
<rect x="111.8" y="390.0" width="27.1" height="2" fill="#8a8a8a" opacity="0.6" rx="1.2"/>
<rect x="110.8" y="369.6" width="2.6" height="22.19999999999999" fill="#909090" opacity="0.6"/>
<rect x="137.3" y="369.6" width="2.6" height="22.19999999999999" fill="#909090" opacity="0.6"/>
</g>
<rect x="112.2" y="370.0" width="26.3" height="21.4" fill="none" stroke="#383838" stroke-width="0.75"/>
<clipPath id="bc3"><rect x="141.6" y="369.6" width="27.099999999999994" height="22.19999999999999"/></clipPath>
<rect x="141.6" y="369.6" width="27.099999999999994" height="22.19999999999999" fill="#d2d2d2"/>
<g clip-path="url(#bc3)" filter="url(#bblur)">
<rect x="141.6" y="369.4" width="27.1" height="2.5" fill="#a0a0a0" opacity="0.6" rx="1.2"/>
<rect x="145.2" y="381.2" width="18.5" height="3.8" fill="#8c8c8c" opacity="0.85" rx="1.2"/>
<rect x="147.6" y="382.4" width="12.1" height="2" fill="#7a7a7a" opacity="0.5" rx="1.2"/>
<rect x="141.6" y="390.0" width="27.1" height="2" fill="#a0a0a0" opacity="0.6" rx="1.2"/>
<rect x="140.6" y="369.6" width="3.2" height="22.19999999999999" fill="#a0a0a0" opacity="0.6"/>
<rect x="166.2" y="369.6" width="3.5" height="22.19999999999999" fill="#9c9c9c" opacity="0.6"/>
</g>
<rect x="142.0" y="370.0" width="26.3" height="21.4" fill="none" stroke="#383838" stroke-width="0.75"/>
<clipPath id="bc4"><rect x="171.8" y="369.6" width="25.69999999999999" height="22.19999999999999"/></clipPath>
<rect x="171.8" y="369.6" width="25.69999999999999" height="22.19999999999999" fill="#d8d8d8"/>
<g clip-path="url(#bc4)" filter="url(#bblur)">
<rect x="171.8" y="369.5" width="25.7" height="2.2" fill="#a8a8a8" opacity="0.6" rx="1.2"/>
<rect x="173.8" y="372.7" width="21.7" height="2.2" fill="#bcbcbc" opacity="0.7" rx="1.2"/>
<rect x="176.3" y="383.0" width="16.2" height="2.8" fill="#888" opacity="0.85" rx="1.2"/>
<rect x="182.3" y="383.5" width="6.2" height="1.8" fill="#3c3c3c" opacity="0.8" rx="1.2"/>
<rect x="171.8" y="390.0" width="25.7" height="2" fill="#a8a8a8" opacity="0.6" rx="1.2"/>
<rect x="170.8" y="369.6" width="2.4" height="22.19999999999999" fill="#aaa" opacity="0.6"/>
<rect x="196.1" y="369.6" width="2.4" height="22.19999999999999" fill="#999" opacity="0.6"/>
</g>
<rect x="172.2" y="370.0" width="24.9" height="21.4" fill="none" stroke="#383838" stroke-width="0.75"/>
<clipPath id="bc5"><rect x="200.3" y="369.6" width="26.599999999999994" height="22.19999999999999"/></clipPath>
<rect x="200.3" y="369.6" width="26.599999999999994" height="22.19999999999999" fill="#dedede"/>
<g clip-path="url(#bc5)" filter="url(#bblur)">
<rect x="202.5" y="376.9" width="22.2" height="8.8" fill="#7a7a7a" opacity="0.45" rx="1.2"/>
<rect x="204.3" y="379.8" width="18.6" height="3" fill="#3a3a3a" opacity="0.75" rx="1.2"/>
<rect x="203.5" y="377.8" width="20.0" height="2.7" fill="#050505" opacity="1" rx="1.2"/>
<rect x="204.1" y="382.1" width="19.8" height="2.7" fill="#050505" opacity="1" rx="1.2"/>
<rect x="199.3" y="369.6" width="2" height="22.19999999999999" fill="#b0b0b0" opacity="0.6"/>
<rect x="225.9" y="369.6" width="2" height="22.19999999999999" fill="#b0b0b0" opacity="0.6"/>
</g>
<rect x="200.7" y="370.0" width="25.8" height="21.4" fill="none" stroke="#383838" stroke-width="0.75"/>
<clipPath id="bc6"><rect x="229.2" y="369.6" width="26.200000000000017" height="22.19999999999999"/></clipPath>
<rect x="229.2" y="369.6" width="26.200000000000017" height="22.19999999999999" fill="#e2e2e2"/>
<g clip-path="url(#bc6)" filter="url(#bblur)">
<rect x="231.6" y="377.4" width="22.2" height="6" fill="#777" opacity="0.4" rx="1.2"/>
<rect x="232.2" y="378.4" width="21.2" height="4.0" fill="#030303" opacity="1" rx="1.2"/>
<rect x="228.2" y="369.6" width="2" height="22.19999999999999" fill="#b8b8b8" opacity="0.6"/>
<rect x="254.4" y="369.6" width="2" height="22.19999999999999" fill="#b8b8b8" opacity="0.6"/>
</g>
<rect x="229.6" y="370.0" width="25.4" height="21.4" fill="none" stroke="#383838" stroke-width="0.75"/>
<circle cx="174.8" cy="372.6" r="0.45" fill="#555"/>
<circle cx="194.4" cy="373.6" r="0.45" fill="#555"/>
<circle cx="195.0" cy="377.6" r="0.45" fill="#555"/>
<circle cx="194.60000000000002" cy="381.6" r="0.45" fill="#555"/>
<circle cx="195.20000000000002" cy="385.6" r="0.45" fill="#555"/>
<circle cx="177.8" cy="387.6" r="0.45" fill="#555"/>
<circle cx="174.3" cy="380.6" r="0.45" fill="#555"/>
<circle cx="179.8" cy="385.1" r="0.45" fill="#555"/>
<circle cx="68.3" cy="381.90000000000003" r="0.6" fill="#333"/>
</svg>
</body></html>
